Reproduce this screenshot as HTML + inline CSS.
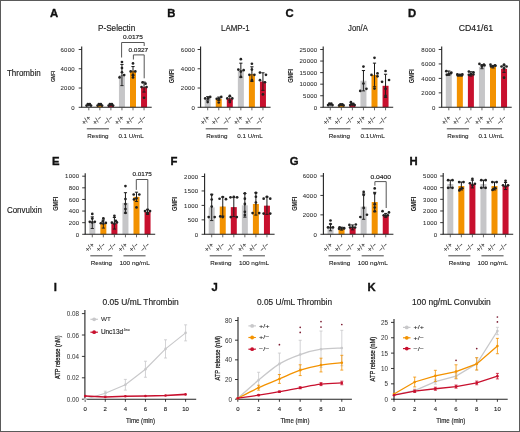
<!DOCTYPE html>
<html><head><meta charset="utf-8"><title>Figure</title><style>
html,body{margin:0;padding:0;background:#fff;}
#fig{position:relative;width:520px;height:432px;overflow:hidden;background:#fff;}
#fig svg{display:block;font-family:"Liberation Sans", sans-serif;will-change:transform;filter:blur(0.3px);}
#frame{position:absolute;left:0;top:0;width:520px;height:432px;box-sizing:border-box;border:1px solid #5a5a5a;}
</style></head><body>
<div id="fig">
<svg width="520" height="432" viewBox="0 0 520 432">
<rect width="520" height="432" fill="#fff"/>
<text x="6.90" y="75.70" font-size="9.0" text-anchor="start" font-weight="normal" fill="#222" stroke="#222" stroke-width="0.16" textLength="33.80" lengthAdjust="spacingAndGlyphs">Thrombin</text>
<text x="6.90" y="213.20" font-size="8.8" text-anchor="start" font-weight="normal" fill="#222" stroke="#222" stroke-width="0.16" textLength="35.00" lengthAdjust="spacingAndGlyphs">Convulxin</text>
<text x="50.10" y="16.90" font-size="11.3" text-anchor="start" font-weight="bold" fill="#111" stroke="#111" stroke-width="0.35">A</text>
<text x="167.20" y="16.90" font-size="11.3" text-anchor="start" font-weight="bold" fill="#111" stroke="#111" stroke-width="0.35">B</text>
<text x="285.50" y="16.90" font-size="11.3" text-anchor="start" font-weight="bold" fill="#111" stroke="#111" stroke-width="0.35">C</text>
<text x="408.10" y="16.90" font-size="11.3" text-anchor="start" font-weight="bold" fill="#111" stroke="#111" stroke-width="0.35">D</text>
<text x="52.10" y="164.60" font-size="11.3" text-anchor="start" font-weight="bold" fill="#111" stroke="#111" stroke-width="0.35">E</text>
<text x="170.60" y="164.60" font-size="11.3" text-anchor="start" font-weight="bold" fill="#111" stroke="#111" stroke-width="0.35">F</text>
<text x="289.70" y="164.60" font-size="11.3" text-anchor="start" font-weight="bold" fill="#111" stroke="#111" stroke-width="0.35">G</text>
<text x="409.40" y="164.60" font-size="11.3" text-anchor="start" font-weight="bold" fill="#111" stroke="#111" stroke-width="0.35">H</text>
<text x="53.70" y="291.40" font-size="11.3" text-anchor="start" font-weight="bold" fill="#111" stroke="#111" stroke-width="0.35">I</text>
<text x="211.50" y="291.40" font-size="11.3" text-anchor="start" font-weight="bold" fill="#111" stroke="#111" stroke-width="0.35">J</text>
<text x="367.50" y="291.40" font-size="11.3" text-anchor="start" font-weight="bold" fill="#111" stroke="#111" stroke-width="0.35">K</text>
<text x="98.00" y="30.50" font-size="8.5" text-anchor="start" font-weight="normal" fill="#222" stroke="#222" stroke-width="0.16" textLength="37.20" lengthAdjust="spacingAndGlyphs">P-Selectin</text>
<text x="221.00" y="30.80" font-size="8.5" text-anchor="start" font-weight="normal" fill="#222" stroke="#222" stroke-width="0.16" textLength="28.60" lengthAdjust="spacingAndGlyphs">LAMP-1</text>
<text x="348.10" y="30.80" font-size="8.5" text-anchor="start" font-weight="normal" fill="#222" stroke="#222" stroke-width="0.16" textLength="19.70" lengthAdjust="spacingAndGlyphs">Jon/A</text>
<text x="458.80" y="30.80" font-size="8.5" text-anchor="start" font-weight="normal" fill="#222" stroke="#222" stroke-width="0.16" textLength="34.30" lengthAdjust="spacingAndGlyphs">CD41/61</text>
<rect x="85.80" y="104.89" width="6.00" height="2.41" fill="#c6c6c8"/>
<rect x="96.85" y="104.89" width="6.00" height="2.41" fill="#f39200"/>
<rect x="107.90" y="104.89" width="6.00" height="2.41" fill="#c8102e"/>
<rect x="118.95" y="75.03" width="6.00" height="32.27" fill="#c6c6c8"/>
<rect x="130.00" y="70.89" width="6.00" height="36.41" fill="#f39200"/>
<rect x="141.05" y="87.07" width="6.00" height="20.23" fill="#c8102e"/>
<circle cx="86.60" cy="105.57" r="1.35" fill="#222"/>
<circle cx="91.00" cy="105.57" r="1.35" fill="#222"/>
<circle cx="87.80" cy="104.02" r="1.35" fill="#222"/>
<circle cx="89.80" cy="104.02" r="1.35" fill="#222"/>
<circle cx="88.80" cy="104.80" r="1.35" fill="#222"/>
<circle cx="97.65" cy="105.57" r="1.35" fill="#222"/>
<circle cx="102.05" cy="105.57" r="1.35" fill="#222"/>
<circle cx="98.85" cy="104.02" r="1.35" fill="#222"/>
<circle cx="100.85" cy="104.02" r="1.35" fill="#222"/>
<circle cx="99.85" cy="104.80" r="1.35" fill="#222"/>
<circle cx="108.70" cy="105.57" r="1.35" fill="#222"/>
<circle cx="113.10" cy="105.57" r="1.35" fill="#222"/>
<circle cx="109.90" cy="104.02" r="1.35" fill="#222"/>
<circle cx="111.90" cy="104.02" r="1.35" fill="#222"/>
<circle cx="110.90" cy="104.80" r="1.35" fill="#222"/>
<line x1="121.95" y1="75.53" x2="121.95" y2="64.43" stroke="#1a1a1a" stroke-width="1"/>
<line x1="120.35" y1="64.43" x2="123.55" y2="64.43" stroke="#1a1a1a" stroke-width="1"/>
<line x1="121.95" y1="75.03" x2="121.95" y2="85.62" stroke="#1a1a1a" stroke-width="0.9"/>
<line x1="120.35" y1="85.62" x2="123.55" y2="85.62" stroke="#1a1a1a" stroke-width="0.9"/>
<circle cx="121.95" cy="62.02" r="1.35" fill="#222"/>
<circle cx="121.95" cy="68.00" r="1.35" fill="#222"/>
<circle cx="121.95" cy="72.23" r="1.35" fill="#222"/>
<circle cx="124.15" cy="75.03" r="1.35" fill="#222"/>
<circle cx="119.55" cy="77.44" r="1.35" fill="#222"/>
<line x1="133.00" y1="71.39" x2="133.00" y2="66.55" stroke="#1a1a1a" stroke-width="1"/>
<line x1="131.40" y1="66.55" x2="134.60" y2="66.55" stroke="#1a1a1a" stroke-width="1"/>
<line x1="133.00" y1="70.89" x2="133.00" y2="75.22" stroke="#1a1a1a" stroke-width="0.9"/>
<line x1="131.40" y1="75.22" x2="134.60" y2="75.22" stroke="#1a1a1a" stroke-width="0.9"/>
<circle cx="133.00" cy="63.47" r="1.35" fill="#222"/>
<circle cx="130.70" cy="71.46" r="1.35" fill="#222"/>
<circle cx="135.30" cy="71.46" r="1.35" fill="#222"/>
<circle cx="133.00" cy="75.12" r="1.35" fill="#222"/>
<circle cx="133.00" cy="77.44" r="1.35" fill="#222"/>
<line x1="144.05" y1="87.57" x2="144.05" y2="82.06" stroke="#1a1a1a" stroke-width="1"/>
<line x1="142.45" y1="82.06" x2="145.65" y2="82.06" stroke="#1a1a1a" stroke-width="1"/>
<line x1="144.05" y1="87.07" x2="144.05" y2="92.08" stroke="#1a1a1a" stroke-width="0.9"/>
<line x1="142.45" y1="92.08" x2="145.65" y2="92.08" stroke="#1a1a1a" stroke-width="0.9"/>
<circle cx="142.55" cy="82.45" r="1.35" fill="#222"/>
<circle cx="145.55" cy="83.70" r="1.35" fill="#222"/>
<circle cx="141.55" cy="87.07" r="1.35" fill="#222"/>
<circle cx="146.55" cy="87.07" r="1.35" fill="#222"/>
<circle cx="144.05" cy="97.76" r="1.35" fill="#222"/>
<line x1="81.70" y1="107.30" x2="81.70" y2="46.50" stroke="#222" stroke-width="1.1"/>
<line x1="81.20" y1="107.30" x2="151.70" y2="107.30" stroke="#222" stroke-width="1.1"/>
<line x1="78.70" y1="107.30" x2="81.70" y2="107.30" stroke="#222" stroke-width="0.9"/>
<text x="74.60" y="109.50" font-size="6" text-anchor="end" font-weight="normal" fill="#2a2a2a" stroke="#2a2a2a" stroke-width="0.06" textLength="3.22" lengthAdjust="spacing">0</text>
<line x1="78.70" y1="88.03" x2="81.70" y2="88.03" stroke="#222" stroke-width="0.9"/>
<text x="74.60" y="90.23" font-size="6" text-anchor="end" font-weight="normal" fill="#2a2a2a" stroke="#2a2a2a" stroke-width="0.06" textLength="14.08" lengthAdjust="spacing">2000</text>
<line x1="78.70" y1="68.77" x2="81.70" y2="68.77" stroke="#222" stroke-width="0.9"/>
<text x="74.60" y="70.97" font-size="6" text-anchor="end" font-weight="normal" fill="#2a2a2a" stroke="#2a2a2a" stroke-width="0.06" textLength="14.08" lengthAdjust="spacing">4000</text>
<line x1="78.70" y1="49.50" x2="81.70" y2="49.50" stroke="#222" stroke-width="0.9"/>
<text x="74.60" y="51.70" font-size="6" text-anchor="end" font-weight="normal" fill="#2a2a2a" stroke="#2a2a2a" stroke-width="0.06" textLength="14.08" lengthAdjust="spacing">6000</text>
<line x1="88.80" y1="107.30" x2="88.80" y2="110.30" stroke="#444" stroke-width="0.8"/>
<text x="91.30" y="118.30" font-size="7.0" text-anchor="end" font-weight="normal" fill="#333" stroke="#333" stroke-width="0.1" transform="rotate(-45 91.30 118.30)">+/+</text>
<line x1="99.85" y1="107.30" x2="99.85" y2="110.30" stroke="#444" stroke-width="0.8"/>
<text x="102.35" y="118.30" font-size="7.0" text-anchor="end" font-weight="normal" fill="#333" stroke="#333" stroke-width="0.1" transform="rotate(-45 102.35 118.30)">+/&#8722;</text>
<line x1="110.90" y1="107.30" x2="110.90" y2="110.30" stroke="#444" stroke-width="0.8"/>
<text x="113.40" y="118.30" font-size="7.0" text-anchor="end" font-weight="normal" fill="#333" stroke="#333" stroke-width="0.1" transform="rotate(-45 113.40 118.30)">&#8722;/&#8722;</text>
<line x1="121.95" y1="107.30" x2="121.95" y2="110.30" stroke="#444" stroke-width="0.8"/>
<text x="124.45" y="118.30" font-size="7.0" text-anchor="end" font-weight="normal" fill="#333" stroke="#333" stroke-width="0.1" transform="rotate(-45 124.45 118.30)">+/+</text>
<line x1="133.00" y1="107.30" x2="133.00" y2="110.30" stroke="#444" stroke-width="0.8"/>
<text x="135.50" y="118.30" font-size="7.0" text-anchor="end" font-weight="normal" fill="#333" stroke="#333" stroke-width="0.1" transform="rotate(-45 135.50 118.30)">+/&#8722;</text>
<line x1="144.05" y1="107.30" x2="144.05" y2="110.30" stroke="#444" stroke-width="0.8"/>
<text x="146.55" y="118.30" font-size="7.0" text-anchor="end" font-weight="normal" fill="#333" stroke="#333" stroke-width="0.1" transform="rotate(-45 146.55 118.30)">&#8722;/&#8722;</text>
<line x1="86.80" y1="128.80" x2="108.90" y2="128.80" stroke="#555" stroke-width="1.1"/>
<line x1="119.95" y1="128.80" x2="142.05" y2="128.80" stroke="#555" stroke-width="1.1"/>
<text x="97.95" y="137.60" font-size="6.2" text-anchor="middle" font-weight="normal" fill="#222" stroke="#222" stroke-width="0.1" textLength="21.20" lengthAdjust="spacingAndGlyphs">Resting</text>
<text x="131.10" y="137.60" font-size="6.2" text-anchor="middle" font-weight="normal" fill="#222" stroke="#222" stroke-width="0.1" textLength="25.40" lengthAdjust="spacingAndGlyphs">0.1 U/mL</text>
<text x="54.55" y="76.40" font-size="4.6" text-anchor="middle" font-weight="normal" fill="#222" stroke="#222" stroke-width="0.2" textLength="10.80" lengthAdjust="spacingAndGlyphs" transform="rotate(-90 54.55 76.40)">GMFI</text>
<text x="132.90" y="39.20" font-size="6" text-anchor="middle" font-weight="normal" fill="#222" stroke="#222" stroke-width="0.16" textLength="20.00" lengthAdjust="spacingAndGlyphs">0.0175</text>
<path d="M121.6 57.5 V42.5 H144.2 V46" stroke="#555" stroke-width="1" fill="none"/>
<text x="138.30" y="51.60" font-size="6" text-anchor="middle" font-weight="normal" fill="#222" stroke="#222" stroke-width="0.16" textLength="19.60" lengthAdjust="spacingAndGlyphs">0.0327</text>
<path d="M133.4 59.5 V54.9 H144.2 V78.3" stroke="#555" stroke-width="1" fill="none"/>
<rect x="204.70" y="98.44" width="6.00" height="8.86" fill="#c6c6c8"/>
<rect x="215.75" y="98.82" width="6.00" height="8.48" fill="#f39200"/>
<rect x="226.80" y="98.44" width="6.00" height="8.86" fill="#c8102e"/>
<rect x="237.85" y="70.21" width="6.00" height="37.09" fill="#c6c6c8"/>
<rect x="248.90" y="74.16" width="6.00" height="33.14" fill="#f39200"/>
<rect x="259.95" y="81.58" width="6.00" height="25.72" fill="#c8102e"/>
<line x1="207.70" y1="98.94" x2="207.70" y2="96.70" stroke="#1a1a1a" stroke-width="1"/>
<line x1="206.10" y1="96.70" x2="209.30" y2="96.70" stroke="#1a1a1a" stroke-width="1"/>
<line x1="207.70" y1="98.44" x2="207.70" y2="100.17" stroke="#1a1a1a" stroke-width="0.9"/>
<line x1="206.10" y1="100.17" x2="209.30" y2="100.17" stroke="#1a1a1a" stroke-width="0.9"/>
<circle cx="205.20" cy="98.44" r="1.35" fill="#222"/>
<circle cx="210.20" cy="96.90" r="1.35" fill="#222"/>
<circle cx="208.20" cy="98.44" r="1.35" fill="#222"/>
<circle cx="207.70" cy="102.10" r="1.35" fill="#222"/>
<line x1="218.75" y1="99.32" x2="218.75" y2="97.09" stroke="#1a1a1a" stroke-width="1"/>
<line x1="217.15" y1="97.09" x2="220.35" y2="97.09" stroke="#1a1a1a" stroke-width="1"/>
<line x1="218.75" y1="98.82" x2="218.75" y2="100.56" stroke="#1a1a1a" stroke-width="0.9"/>
<line x1="217.15" y1="100.56" x2="220.35" y2="100.56" stroke="#1a1a1a" stroke-width="0.9"/>
<circle cx="216.75" cy="98.82" r="1.35" fill="#222"/>
<circle cx="221.25" cy="96.90" r="1.35" fill="#222"/>
<circle cx="219.25" cy="98.82" r="1.35" fill="#222"/>
<circle cx="218.75" cy="102.48" r="1.35" fill="#222"/>
<line x1="229.80" y1="98.94" x2="229.80" y2="96.51" stroke="#1a1a1a" stroke-width="1"/>
<line x1="228.20" y1="96.51" x2="231.40" y2="96.51" stroke="#1a1a1a" stroke-width="1"/>
<line x1="229.80" y1="98.44" x2="229.80" y2="100.36" stroke="#1a1a1a" stroke-width="0.9"/>
<line x1="228.20" y1="100.36" x2="231.40" y2="100.36" stroke="#1a1a1a" stroke-width="0.9"/>
<circle cx="229.80" cy="95.74" r="1.35" fill="#222"/>
<circle cx="227.30" cy="98.44" r="1.35" fill="#222"/>
<circle cx="232.30" cy="98.44" r="1.35" fill="#222"/>
<circle cx="229.80" cy="102.10" r="1.35" fill="#222"/>
<line x1="240.85" y1="70.71" x2="240.85" y2="63.18" stroke="#1a1a1a" stroke-width="1"/>
<line x1="239.25" y1="63.18" x2="242.45" y2="63.18" stroke="#1a1a1a" stroke-width="1"/>
<line x1="240.85" y1="70.21" x2="240.85" y2="77.24" stroke="#1a1a1a" stroke-width="0.9"/>
<line x1="239.25" y1="77.24" x2="242.45" y2="77.24" stroke="#1a1a1a" stroke-width="0.9"/>
<circle cx="240.85" cy="59.13" r="1.35" fill="#222"/>
<circle cx="238.35" cy="69.54" r="1.35" fill="#222"/>
<circle cx="243.65" cy="70.21" r="1.35" fill="#222"/>
<circle cx="240.85" cy="71.56" r="1.35" fill="#222"/>
<circle cx="240.85" cy="76.95" r="1.35" fill="#222"/>
<line x1="251.90" y1="74.66" x2="251.90" y2="66.79" stroke="#1a1a1a" stroke-width="1"/>
<line x1="250.30" y1="66.79" x2="253.50" y2="66.79" stroke="#1a1a1a" stroke-width="1"/>
<line x1="251.90" y1="74.16" x2="251.90" y2="81.53" stroke="#1a1a1a" stroke-width="0.9"/>
<line x1="250.30" y1="81.53" x2="253.50" y2="81.53" stroke="#1a1a1a" stroke-width="0.9"/>
<circle cx="251.90" cy="63.76" r="1.35" fill="#222"/>
<circle cx="251.90" cy="69.54" r="1.35" fill="#222"/>
<circle cx="249.40" cy="74.84" r="1.35" fill="#222"/>
<circle cx="254.40" cy="74.84" r="1.35" fill="#222"/>
<circle cx="251.90" cy="80.13" r="1.35" fill="#222"/>
<line x1="262.95" y1="82.08" x2="262.95" y2="72.81" stroke="#1a1a1a" stroke-width="1"/>
<line x1="261.35" y1="72.81" x2="264.55" y2="72.81" stroke="#1a1a1a" stroke-width="1"/>
<line x1="262.95" y1="81.58" x2="262.95" y2="90.35" stroke="#1a1a1a" stroke-width="0.9"/>
<line x1="261.35" y1="90.35" x2="264.55" y2="90.35" stroke="#1a1a1a" stroke-width="0.9"/>
<circle cx="259.95" cy="72.62" r="1.35" fill="#222"/>
<circle cx="265.95" cy="74.84" r="1.35" fill="#222"/>
<circle cx="259.95" cy="80.13" r="1.35" fill="#222"/>
<circle cx="264.95" cy="82.25" r="1.35" fill="#222"/>
<circle cx="262.95" cy="94.39" r="1.35" fill="#222"/>
<line x1="200.60" y1="107.30" x2="200.60" y2="46.50" stroke="#222" stroke-width="1.1"/>
<line x1="200.10" y1="107.30" x2="270.60" y2="107.30" stroke="#222" stroke-width="1.1"/>
<line x1="197.60" y1="107.30" x2="200.60" y2="107.30" stroke="#222" stroke-width="0.9"/>
<text x="194.90" y="109.50" font-size="6" text-anchor="end" font-weight="normal" fill="#2a2a2a" stroke="#2a2a2a" stroke-width="0.06" textLength="3.22" lengthAdjust="spacing">0</text>
<line x1="197.60" y1="88.03" x2="200.60" y2="88.03" stroke="#222" stroke-width="0.9"/>
<text x="194.90" y="90.23" font-size="6" text-anchor="end" font-weight="normal" fill="#2a2a2a" stroke="#2a2a2a" stroke-width="0.06" textLength="14.08" lengthAdjust="spacing">2000</text>
<line x1="197.60" y1="68.77" x2="200.60" y2="68.77" stroke="#222" stroke-width="0.9"/>
<text x="194.90" y="70.97" font-size="6" text-anchor="end" font-weight="normal" fill="#2a2a2a" stroke="#2a2a2a" stroke-width="0.06" textLength="14.08" lengthAdjust="spacing">4000</text>
<line x1="197.60" y1="49.50" x2="200.60" y2="49.50" stroke="#222" stroke-width="0.9"/>
<text x="194.90" y="51.70" font-size="6" text-anchor="end" font-weight="normal" fill="#2a2a2a" stroke="#2a2a2a" stroke-width="0.06" textLength="14.08" lengthAdjust="spacing">6000</text>
<line x1="207.70" y1="107.30" x2="207.70" y2="110.30" stroke="#444" stroke-width="0.8"/>
<text x="210.20" y="118.30" font-size="7.0" text-anchor="end" font-weight="normal" fill="#333" stroke="#333" stroke-width="0.1" transform="rotate(-45 210.20 118.30)">+/+</text>
<line x1="218.75" y1="107.30" x2="218.75" y2="110.30" stroke="#444" stroke-width="0.8"/>
<text x="221.25" y="118.30" font-size="7.0" text-anchor="end" font-weight="normal" fill="#333" stroke="#333" stroke-width="0.1" transform="rotate(-45 221.25 118.30)">+/&#8722;</text>
<line x1="229.80" y1="107.30" x2="229.80" y2="110.30" stroke="#444" stroke-width="0.8"/>
<text x="232.30" y="118.30" font-size="7.0" text-anchor="end" font-weight="normal" fill="#333" stroke="#333" stroke-width="0.1" transform="rotate(-45 232.30 118.30)">&#8722;/&#8722;</text>
<line x1="240.85" y1="107.30" x2="240.85" y2="110.30" stroke="#444" stroke-width="0.8"/>
<text x="243.35" y="118.30" font-size="7.0" text-anchor="end" font-weight="normal" fill="#333" stroke="#333" stroke-width="0.1" transform="rotate(-45 243.35 118.30)">+/+</text>
<line x1="251.90" y1="107.30" x2="251.90" y2="110.30" stroke="#444" stroke-width="0.8"/>
<text x="254.40" y="118.30" font-size="7.0" text-anchor="end" font-weight="normal" fill="#333" stroke="#333" stroke-width="0.1" transform="rotate(-45 254.40 118.30)">+/&#8722;</text>
<line x1="262.95" y1="107.30" x2="262.95" y2="110.30" stroke="#444" stroke-width="0.8"/>
<text x="265.45" y="118.30" font-size="7.0" text-anchor="end" font-weight="normal" fill="#333" stroke="#333" stroke-width="0.1" transform="rotate(-45 265.45 118.30)">&#8722;/&#8722;</text>
<line x1="205.70" y1="128.80" x2="227.80" y2="128.80" stroke="#555" stroke-width="1.1"/>
<line x1="238.85" y1="128.80" x2="260.95" y2="128.80" stroke="#555" stroke-width="1.1"/>
<text x="216.85" y="137.60" font-size="6.2" text-anchor="middle" font-weight="normal" fill="#222" stroke="#222" stroke-width="0.1" textLength="21.20" lengthAdjust="spacingAndGlyphs">Resting</text>
<text x="250.00" y="137.60" font-size="6.2" text-anchor="middle" font-weight="normal" fill="#222" stroke="#222" stroke-width="0.1" textLength="25.40" lengthAdjust="spacingAndGlyphs">0.1 U/mL</text>
<text x="173.75" y="76.20" font-size="7.4" text-anchor="middle" font-weight="bold" fill="#222" stroke="#222" stroke-width="0.05" textLength="13.90" lengthAdjust="spacingAndGlyphs" transform="rotate(-90 173.75 76.20)">GMFI</text>
<rect x="327.30" y="104.53" width="6.00" height="2.77" fill="#c6c6c8"/>
<rect x="338.35" y="104.99" width="6.00" height="2.31" fill="#f39200"/>
<rect x="349.40" y="104.29" width="6.00" height="3.01" fill="#c8102e"/>
<rect x="360.45" y="80.71" width="6.00" height="26.59" fill="#c6c6c8"/>
<rect x="371.50" y="74.93" width="6.00" height="32.37" fill="#f39200"/>
<rect x="382.55" y="85.80" width="6.00" height="21.50" fill="#c8102e"/>
<circle cx="328.10" cy="105.10" r="1.35" fill="#222"/>
<circle cx="332.50" cy="105.10" r="1.35" fill="#222"/>
<circle cx="329.30" cy="103.72" r="1.35" fill="#222"/>
<circle cx="331.30" cy="103.72" r="1.35" fill="#222"/>
<circle cx="330.30" cy="104.41" r="1.35" fill="#222"/>
<circle cx="339.15" cy="105.45" r="1.35" fill="#222"/>
<circle cx="343.55" cy="105.45" r="1.35" fill="#222"/>
<circle cx="340.35" cy="104.29" r="1.35" fill="#222"/>
<circle cx="342.35" cy="104.29" r="1.35" fill="#222"/>
<circle cx="341.35" cy="104.87" r="1.35" fill="#222"/>
<circle cx="350.20" cy="105.10" r="1.35" fill="#222"/>
<circle cx="354.60" cy="105.10" r="1.35" fill="#222"/>
<circle cx="351.40" cy="103.95" r="1.35" fill="#222"/>
<circle cx="353.40" cy="103.95" r="1.35" fill="#222"/>
<circle cx="352.40" cy="104.53" r="1.35" fill="#222"/>
<circle cx="350.90" cy="102.21" r="1.35" fill="#222"/>
<line x1="363.45" y1="81.21" x2="363.45" y2="70.54" stroke="#1a1a1a" stroke-width="1"/>
<line x1="361.85" y1="70.54" x2="365.05" y2="70.54" stroke="#1a1a1a" stroke-width="1"/>
<line x1="363.45" y1="80.71" x2="363.45" y2="90.88" stroke="#1a1a1a" stroke-width="0.9"/>
<line x1="361.85" y1="90.88" x2="365.05" y2="90.88" stroke="#1a1a1a" stroke-width="0.9"/>
<circle cx="363.45" cy="66.61" r="1.35" fill="#222"/>
<circle cx="363.45" cy="83.60" r="1.35" fill="#222"/>
<circle cx="360.25" cy="90.88" r="1.35" fill="#222"/>
<circle cx="366.45" cy="88.80" r="1.35" fill="#222"/>
<line x1="374.50" y1="75.43" x2="374.50" y2="63.14" stroke="#1a1a1a" stroke-width="1"/>
<line x1="372.90" y1="63.14" x2="376.10" y2="63.14" stroke="#1a1a1a" stroke-width="1"/>
<line x1="374.50" y1="74.93" x2="374.50" y2="86.72" stroke="#1a1a1a" stroke-width="0.9"/>
<line x1="372.90" y1="86.72" x2="376.10" y2="86.72" stroke="#1a1a1a" stroke-width="0.9"/>
<circle cx="374.50" cy="57.82" r="1.35" fill="#222"/>
<circle cx="371.50" cy="74.93" r="1.35" fill="#222"/>
<circle cx="377.50" cy="73.43" r="1.35" fill="#222"/>
<circle cx="377.50" cy="76.32" r="1.35" fill="#222"/>
<circle cx="374.50" cy="88.57" r="1.35" fill="#222"/>
<line x1="385.55" y1="86.30" x2="385.55" y2="74.24" stroke="#1a1a1a" stroke-width="1"/>
<line x1="383.95" y1="74.24" x2="387.15" y2="74.24" stroke="#1a1a1a" stroke-width="1"/>
<line x1="385.55" y1="85.80" x2="385.55" y2="97.36" stroke="#1a1a1a" stroke-width="0.9"/>
<line x1="383.95" y1="97.36" x2="387.15" y2="97.36" stroke="#1a1a1a" stroke-width="0.9"/>
<circle cx="385.55" cy="71.00" r="1.35" fill="#222"/>
<circle cx="382.05" cy="81.87" r="1.35" fill="#222"/>
<circle cx="389.05" cy="80.02" r="1.35" fill="#222"/>
<circle cx="385.55" cy="88.80" r="1.35" fill="#222"/>
<circle cx="385.55" cy="95.97" r="1.35" fill="#222"/>
<line x1="323.20" y1="107.30" x2="323.20" y2="46.50" stroke="#222" stroke-width="1.1"/>
<line x1="322.70" y1="107.30" x2="393.20" y2="107.30" stroke="#222" stroke-width="1.1"/>
<line x1="320.20" y1="107.30" x2="323.20" y2="107.30" stroke="#222" stroke-width="0.9"/>
<text x="317.20" y="109.50" font-size="6" text-anchor="end" font-weight="normal" fill="#2a2a2a" stroke="#2a2a2a" stroke-width="0.06" textLength="3.22" lengthAdjust="spacing">0</text>
<line x1="320.20" y1="95.74" x2="323.20" y2="95.74" stroke="#222" stroke-width="0.9"/>
<text x="317.20" y="97.94" font-size="6" text-anchor="end" font-weight="normal" fill="#2a2a2a" stroke="#2a2a2a" stroke-width="0.06" textLength="14.08" lengthAdjust="spacing">5000</text>
<line x1="320.20" y1="84.18" x2="323.20" y2="84.18" stroke="#222" stroke-width="0.9"/>
<text x="317.20" y="86.38" font-size="6" text-anchor="end" font-weight="normal" fill="#2a2a2a" stroke="#2a2a2a" stroke-width="0.06" textLength="17.70" lengthAdjust="spacing">10000</text>
<line x1="320.20" y1="72.62" x2="323.20" y2="72.62" stroke="#222" stroke-width="0.9"/>
<text x="317.20" y="74.82" font-size="6" text-anchor="end" font-weight="normal" fill="#2a2a2a" stroke="#2a2a2a" stroke-width="0.06" textLength="17.70" lengthAdjust="spacing">15000</text>
<line x1="320.20" y1="61.06" x2="323.20" y2="61.06" stroke="#222" stroke-width="0.9"/>
<text x="317.20" y="63.26" font-size="6" text-anchor="end" font-weight="normal" fill="#2a2a2a" stroke="#2a2a2a" stroke-width="0.06" textLength="17.70" lengthAdjust="spacing">20000</text>
<line x1="320.20" y1="49.50" x2="323.20" y2="49.50" stroke="#222" stroke-width="0.9"/>
<text x="317.20" y="51.70" font-size="6" text-anchor="end" font-weight="normal" fill="#2a2a2a" stroke="#2a2a2a" stroke-width="0.06" textLength="17.70" lengthAdjust="spacing">25000</text>
<line x1="330.30" y1="107.30" x2="330.30" y2="110.30" stroke="#444" stroke-width="0.8"/>
<text x="332.80" y="118.30" font-size="7.0" text-anchor="end" font-weight="normal" fill="#333" stroke="#333" stroke-width="0.1" transform="rotate(-45 332.80 118.30)">+/+</text>
<line x1="341.35" y1="107.30" x2="341.35" y2="110.30" stroke="#444" stroke-width="0.8"/>
<text x="343.85" y="118.30" font-size="7.0" text-anchor="end" font-weight="normal" fill="#333" stroke="#333" stroke-width="0.1" transform="rotate(-45 343.85 118.30)">+/&#8722;</text>
<line x1="352.40" y1="107.30" x2="352.40" y2="110.30" stroke="#444" stroke-width="0.8"/>
<text x="354.90" y="118.30" font-size="7.0" text-anchor="end" font-weight="normal" fill="#333" stroke="#333" stroke-width="0.1" transform="rotate(-45 354.90 118.30)">&#8722;/&#8722;</text>
<line x1="363.45" y1="107.30" x2="363.45" y2="110.30" stroke="#444" stroke-width="0.8"/>
<text x="365.95" y="118.30" font-size="7.0" text-anchor="end" font-weight="normal" fill="#333" stroke="#333" stroke-width="0.1" transform="rotate(-45 365.95 118.30)">+/+</text>
<line x1="374.50" y1="107.30" x2="374.50" y2="110.30" stroke="#444" stroke-width="0.8"/>
<text x="377.00" y="118.30" font-size="7.0" text-anchor="end" font-weight="normal" fill="#333" stroke="#333" stroke-width="0.1" transform="rotate(-45 377.00 118.30)">+/&#8722;</text>
<line x1="385.55" y1="107.30" x2="385.55" y2="110.30" stroke="#444" stroke-width="0.8"/>
<text x="388.05" y="118.30" font-size="7.0" text-anchor="end" font-weight="normal" fill="#333" stroke="#333" stroke-width="0.1" transform="rotate(-45 388.05 118.30)">&#8722;/&#8722;</text>
<line x1="328.30" y1="128.80" x2="350.40" y2="128.80" stroke="#555" stroke-width="1.1"/>
<line x1="361.45" y1="128.80" x2="383.55" y2="128.80" stroke="#555" stroke-width="1.1"/>
<text x="339.45" y="137.60" font-size="6.2" text-anchor="middle" font-weight="normal" fill="#222" stroke="#222" stroke-width="0.1" textLength="21.20" lengthAdjust="spacingAndGlyphs">Resting</text>
<text x="372.60" y="137.60" font-size="6.2" text-anchor="middle" font-weight="normal" fill="#222" stroke="#222" stroke-width="0.1" textLength="24.20" lengthAdjust="spacingAndGlyphs">0.1U/mL</text>
<text x="292.65" y="75.90" font-size="7.4" text-anchor="middle" font-weight="bold" fill="#222" stroke="#222" stroke-width="0.05" textLength="13.90" lengthAdjust="spacingAndGlyphs" transform="rotate(-90 292.65 75.90)">GMFI</text>
<rect x="445.80" y="73.20" width="6.00" height="34.10" fill="#c6c6c8"/>
<rect x="456.85" y="75.08" width="6.00" height="32.22" fill="#f39200"/>
<rect x="467.90" y="73.92" width="6.00" height="33.38" fill="#c8102e"/>
<rect x="478.95" y="66.91" width="6.00" height="40.39" fill="#c6c6c8"/>
<rect x="490.00" y="66.91" width="6.00" height="40.39" fill="#f39200"/>
<rect x="501.05" y="68.79" width="6.00" height="38.51" fill="#c8102e"/>
<line x1="448.80" y1="73.70" x2="448.80" y2="71.03" stroke="#1a1a1a" stroke-width="1"/>
<line x1="447.20" y1="71.03" x2="450.40" y2="71.03" stroke="#1a1a1a" stroke-width="1"/>
<line x1="448.80" y1="73.20" x2="448.80" y2="75.37" stroke="#1a1a1a" stroke-width="0.9"/>
<line x1="447.20" y1="75.37" x2="450.40" y2="75.37" stroke="#1a1a1a" stroke-width="0.9"/>
<circle cx="446.30" cy="71.17" r="1.35" fill="#222"/>
<circle cx="451.30" cy="72.62" r="1.35" fill="#222"/>
<circle cx="448.80" cy="74.06" r="1.35" fill="#222"/>
<circle cx="446.80" cy="74.79" r="1.35" fill="#222"/>
<circle cx="450.80" cy="73.34" r="1.35" fill="#222"/>
<line x1="459.85" y1="75.58" x2="459.85" y2="74.21" stroke="#1a1a1a" stroke-width="1"/>
<line x1="458.25" y1="74.21" x2="461.45" y2="74.21" stroke="#1a1a1a" stroke-width="1"/>
<line x1="459.85" y1="75.08" x2="459.85" y2="75.94" stroke="#1a1a1a" stroke-width="0.9"/>
<line x1="458.25" y1="75.94" x2="461.45" y2="75.94" stroke="#1a1a1a" stroke-width="0.9"/>
<circle cx="457.35" cy="74.43" r="1.35" fill="#222"/>
<circle cx="462.35" cy="74.43" r="1.35" fill="#222"/>
<circle cx="459.85" cy="75.15" r="1.35" fill="#222"/>
<circle cx="457.85" cy="75.51" r="1.35" fill="#222"/>
<circle cx="461.85" cy="75.51" r="1.35" fill="#222"/>
<line x1="470.90" y1="74.42" x2="470.90" y2="71.75" stroke="#1a1a1a" stroke-width="1"/>
<line x1="469.30" y1="71.75" x2="472.50" y2="71.75" stroke="#1a1a1a" stroke-width="1"/>
<line x1="470.90" y1="73.92" x2="470.90" y2="76.09" stroke="#1a1a1a" stroke-width="0.9"/>
<line x1="469.30" y1="76.09" x2="472.50" y2="76.09" stroke="#1a1a1a" stroke-width="0.9"/>
<circle cx="468.90" cy="71.54" r="1.35" fill="#222"/>
<circle cx="473.40" cy="72.26" r="1.35" fill="#222"/>
<circle cx="470.90" cy="74.06" r="1.35" fill="#222"/>
<circle cx="468.90" cy="74.79" r="1.35" fill="#222"/>
<circle cx="473.40" cy="74.43" r="1.35" fill="#222"/>
<line x1="481.95" y1="67.41" x2="481.95" y2="65.11" stroke="#1a1a1a" stroke-width="1"/>
<line x1="480.35" y1="65.11" x2="483.55" y2="65.11" stroke="#1a1a1a" stroke-width="1"/>
<line x1="481.95" y1="66.91" x2="481.95" y2="68.72" stroke="#1a1a1a" stroke-width="0.9"/>
<line x1="480.35" y1="68.72" x2="483.55" y2="68.72" stroke="#1a1a1a" stroke-width="0.9"/>
<circle cx="479.45" cy="63.95" r="1.35" fill="#222"/>
<circle cx="483.95" cy="64.67" r="1.35" fill="#222"/>
<circle cx="481.95" cy="66.48" r="1.35" fill="#222"/>
<circle cx="481.95" cy="65.39" r="1.35" fill="#222"/>
<circle cx="484.45" cy="65.39" r="1.35" fill="#222"/>
<line x1="493.00" y1="67.41" x2="493.00" y2="65.83" stroke="#1a1a1a" stroke-width="1"/>
<line x1="491.40" y1="65.83" x2="494.60" y2="65.83" stroke="#1a1a1a" stroke-width="1"/>
<line x1="493.00" y1="66.91" x2="493.00" y2="68.00" stroke="#1a1a1a" stroke-width="0.9"/>
<line x1="491.40" y1="68.00" x2="494.60" y2="68.00" stroke="#1a1a1a" stroke-width="0.9"/>
<circle cx="490.50" cy="64.67" r="1.35" fill="#222"/>
<circle cx="495.00" cy="65.39" r="1.35" fill="#222"/>
<circle cx="493.00" cy="66.12" r="1.35" fill="#222"/>
<circle cx="495.50" cy="65.76" r="1.35" fill="#222"/>
<circle cx="491.00" cy="66.48" r="1.35" fill="#222"/>
<line x1="504.05" y1="69.29" x2="504.05" y2="65.18" stroke="#1a1a1a" stroke-width="1"/>
<line x1="502.45" y1="65.18" x2="505.65" y2="65.18" stroke="#1a1a1a" stroke-width="1"/>
<line x1="504.05" y1="68.79" x2="504.05" y2="72.40" stroke="#1a1a1a" stroke-width="0.9"/>
<line x1="502.45" y1="72.40" x2="505.65" y2="72.40" stroke="#1a1a1a" stroke-width="0.9"/>
<circle cx="504.05" cy="64.67" r="1.35" fill="#222"/>
<circle cx="501.55" cy="66.48" r="1.35" fill="#222"/>
<circle cx="506.55" cy="66.48" r="1.35" fill="#222"/>
<circle cx="504.05" cy="68.28" r="1.35" fill="#222"/>
<circle cx="504.05" cy="77.68" r="1.35" fill="#222"/>
<line x1="441.70" y1="107.30" x2="441.70" y2="46.50" stroke="#222" stroke-width="1.1"/>
<line x1="441.20" y1="107.30" x2="511.70" y2="107.30" stroke="#222" stroke-width="1.1"/>
<line x1="438.70" y1="107.30" x2="441.70" y2="107.30" stroke="#222" stroke-width="0.9"/>
<text x="435.40" y="109.50" font-size="6" text-anchor="end" font-weight="normal" fill="#2a2a2a" stroke="#2a2a2a" stroke-width="0.06" textLength="3.22" lengthAdjust="spacing">0</text>
<line x1="438.70" y1="92.85" x2="441.70" y2="92.85" stroke="#222" stroke-width="0.9"/>
<text x="435.40" y="95.05" font-size="6" text-anchor="end" font-weight="normal" fill="#2a2a2a" stroke="#2a2a2a" stroke-width="0.06" textLength="14.08" lengthAdjust="spacing">2000</text>
<line x1="438.70" y1="78.40" x2="441.70" y2="78.40" stroke="#222" stroke-width="0.9"/>
<text x="435.40" y="80.60" font-size="6" text-anchor="end" font-weight="normal" fill="#2a2a2a" stroke="#2a2a2a" stroke-width="0.06" textLength="14.08" lengthAdjust="spacing">4000</text>
<line x1="438.70" y1="63.95" x2="441.70" y2="63.95" stroke="#222" stroke-width="0.9"/>
<text x="435.40" y="66.15" font-size="6" text-anchor="end" font-weight="normal" fill="#2a2a2a" stroke="#2a2a2a" stroke-width="0.06" textLength="14.08" lengthAdjust="spacing">6000</text>
<line x1="438.70" y1="49.50" x2="441.70" y2="49.50" stroke="#222" stroke-width="0.9"/>
<text x="435.40" y="51.70" font-size="6" text-anchor="end" font-weight="normal" fill="#2a2a2a" stroke="#2a2a2a" stroke-width="0.06" textLength="14.08" lengthAdjust="spacing">8000</text>
<line x1="448.80" y1="107.30" x2="448.80" y2="110.30" stroke="#444" stroke-width="0.8"/>
<text x="451.30" y="118.30" font-size="7.0" text-anchor="end" font-weight="normal" fill="#333" stroke="#333" stroke-width="0.1" transform="rotate(-45 451.30 118.30)">+/+</text>
<line x1="459.85" y1="107.30" x2="459.85" y2="110.30" stroke="#444" stroke-width="0.8"/>
<text x="462.35" y="118.30" font-size="7.0" text-anchor="end" font-weight="normal" fill="#333" stroke="#333" stroke-width="0.1" transform="rotate(-45 462.35 118.30)">+/&#8722;</text>
<line x1="470.90" y1="107.30" x2="470.90" y2="110.30" stroke="#444" stroke-width="0.8"/>
<text x="473.40" y="118.30" font-size="7.0" text-anchor="end" font-weight="normal" fill="#333" stroke="#333" stroke-width="0.1" transform="rotate(-45 473.40 118.30)">&#8722;/&#8722;</text>
<line x1="481.95" y1="107.30" x2="481.95" y2="110.30" stroke="#444" stroke-width="0.8"/>
<text x="484.45" y="118.30" font-size="7.0" text-anchor="end" font-weight="normal" fill="#333" stroke="#333" stroke-width="0.1" transform="rotate(-45 484.45 118.30)">+/+</text>
<line x1="493.00" y1="107.30" x2="493.00" y2="110.30" stroke="#444" stroke-width="0.8"/>
<text x="495.50" y="118.30" font-size="7.0" text-anchor="end" font-weight="normal" fill="#333" stroke="#333" stroke-width="0.1" transform="rotate(-45 495.50 118.30)">+/&#8722;</text>
<line x1="504.05" y1="107.30" x2="504.05" y2="110.30" stroke="#444" stroke-width="0.8"/>
<text x="506.55" y="118.30" font-size="7.0" text-anchor="end" font-weight="normal" fill="#333" stroke="#333" stroke-width="0.1" transform="rotate(-45 506.55 118.30)">&#8722;/&#8722;</text>
<line x1="446.80" y1="128.80" x2="468.90" y2="128.80" stroke="#555" stroke-width="1.1"/>
<line x1="479.95" y1="128.80" x2="502.05" y2="128.80" stroke="#555" stroke-width="1.1"/>
<text x="457.95" y="137.60" font-size="6.2" text-anchor="middle" font-weight="normal" fill="#222" stroke="#222" stroke-width="0.1" textLength="21.20" lengthAdjust="spacingAndGlyphs">Resting</text>
<text x="491.10" y="137.60" font-size="6.2" text-anchor="middle" font-weight="normal" fill="#222" stroke="#222" stroke-width="0.1" textLength="25.40" lengthAdjust="spacingAndGlyphs">0.1 U/mL</text>
<text x="414.25" y="76.20" font-size="7.4" text-anchor="middle" font-weight="bold" fill="#222" stroke="#222" stroke-width="0.05" textLength="13.90" lengthAdjust="spacingAndGlyphs" transform="rotate(-90 414.25 76.20)">GMFI</text>
<rect x="89.30" y="222.68" width="6.00" height="11.62" fill="#c6c6c8"/>
<rect x="100.35" y="224.02" width="6.00" height="10.28" fill="#f39200"/>
<rect x="111.40" y="223.26" width="6.00" height="11.04" fill="#c8102e"/>
<rect x="122.45" y="202.93" width="6.00" height="31.37" fill="#c6c6c8"/>
<rect x="133.50" y="196.83" width="6.00" height="37.47" fill="#f39200"/>
<rect x="144.55" y="212.05" width="6.00" height="22.25" fill="#c8102e"/>
<line x1="92.30" y1="223.18" x2="92.30" y2="216.87" stroke="#1a1a1a" stroke-width="1"/>
<line x1="90.70" y1="216.87" x2="93.90" y2="216.87" stroke="#1a1a1a" stroke-width="1"/>
<line x1="92.30" y1="222.68" x2="92.30" y2="228.49" stroke="#1a1a1a" stroke-width="0.9"/>
<line x1="90.70" y1="228.49" x2="93.90" y2="228.49" stroke="#1a1a1a" stroke-width="0.9"/>
<circle cx="92.30" cy="213.97" r="1.35" fill="#222"/>
<circle cx="92.30" cy="218.61" r="1.35" fill="#222"/>
<circle cx="89.80" cy="221.81" r="1.35" fill="#222"/>
<circle cx="94.80" cy="221.81" r="1.35" fill="#222"/>
<circle cx="92.30" cy="222.39" r="1.35" fill="#222"/>
<line x1="103.35" y1="224.52" x2="103.35" y2="219.95" stroke="#1a1a1a" stroke-width="1"/>
<line x1="101.75" y1="219.95" x2="104.95" y2="219.95" stroke="#1a1a1a" stroke-width="1"/>
<line x1="103.35" y1="224.02" x2="103.35" y2="228.08" stroke="#1a1a1a" stroke-width="0.9"/>
<line x1="101.75" y1="228.08" x2="104.95" y2="228.08" stroke="#1a1a1a" stroke-width="0.9"/>
<circle cx="103.35" cy="218.32" r="1.35" fill="#222"/>
<circle cx="102.85" cy="221.23" r="1.35" fill="#222"/>
<circle cx="100.85" cy="223.26" r="1.35" fill="#222"/>
<circle cx="105.85" cy="222.97" r="1.35" fill="#222"/>
<circle cx="103.35" cy="223.55" r="1.35" fill="#222"/>
<line x1="114.40" y1="223.76" x2="114.40" y2="217.45" stroke="#1a1a1a" stroke-width="1"/>
<line x1="112.80" y1="217.45" x2="116.00" y2="217.45" stroke="#1a1a1a" stroke-width="1"/>
<line x1="114.40" y1="223.26" x2="114.40" y2="229.07" stroke="#1a1a1a" stroke-width="0.9"/>
<line x1="112.80" y1="229.07" x2="116.00" y2="229.07" stroke="#1a1a1a" stroke-width="0.9"/>
<circle cx="114.40" cy="215.82" r="1.35" fill="#222"/>
<circle cx="115.90" cy="220.94" r="1.35" fill="#222"/>
<circle cx="111.90" cy="222.68" r="1.35" fill="#222"/>
<circle cx="116.90" cy="222.39" r="1.35" fill="#222"/>
<circle cx="114.40" cy="223.84" r="1.35" fill="#222"/>
<line x1="125.45" y1="203.43" x2="125.45" y2="192.70" stroke="#1a1a1a" stroke-width="1"/>
<line x1="123.85" y1="192.70" x2="127.05" y2="192.70" stroke="#1a1a1a" stroke-width="1"/>
<line x1="125.45" y1="202.93" x2="125.45" y2="213.15" stroke="#1a1a1a" stroke-width="0.9"/>
<line x1="123.85" y1="213.15" x2="127.05" y2="213.15" stroke="#1a1a1a" stroke-width="0.9"/>
<circle cx="125.45" cy="186.08" r="1.35" fill="#222"/>
<circle cx="125.45" cy="199.09" r="1.35" fill="#222"/>
<circle cx="125.45" cy="204.09" r="1.35" fill="#222"/>
<circle cx="125.45" cy="209.08" r="1.35" fill="#222"/>
<circle cx="125.45" cy="212.86" r="1.35" fill="#222"/>
<line x1="136.50" y1="197.33" x2="136.50" y2="192.18" stroke="#1a1a1a" stroke-width="1"/>
<line x1="134.90" y1="192.18" x2="138.10" y2="192.18" stroke="#1a1a1a" stroke-width="1"/>
<line x1="136.50" y1="196.83" x2="136.50" y2="201.47" stroke="#1a1a1a" stroke-width="0.9"/>
<line x1="134.90" y1="201.47" x2="138.10" y2="201.47" stroke="#1a1a1a" stroke-width="0.9"/>
<circle cx="133.70" cy="194.50" r="1.35" fill="#222"/>
<circle cx="139.30" cy="194.50" r="1.35" fill="#222"/>
<circle cx="136.50" cy="198.28" r="1.35" fill="#222"/>
<circle cx="134.00" cy="199.44" r="1.35" fill="#222"/>
<circle cx="136.50" cy="207.46" r="1.35" fill="#222"/>
<line x1="147.55" y1="212.55" x2="147.55" y2="209.72" stroke="#1a1a1a" stroke-width="1"/>
<line x1="145.95" y1="209.72" x2="149.15" y2="209.72" stroke="#1a1a1a" stroke-width="1"/>
<line x1="147.55" y1="212.05" x2="147.55" y2="214.37" stroke="#1a1a1a" stroke-width="0.9"/>
<line x1="145.95" y1="214.37" x2="149.15" y2="214.37" stroke="#1a1a1a" stroke-width="0.9"/>
<circle cx="147.55" cy="209.49" r="1.35" fill="#222"/>
<circle cx="145.05" cy="211.06" r="1.35" fill="#222"/>
<circle cx="150.05" cy="211.06" r="1.35" fill="#222"/>
<circle cx="147.55" cy="212.80" r="1.35" fill="#222"/>
<circle cx="147.55" cy="213.38" r="1.35" fill="#222"/>
<line x1="85.20" y1="234.30" x2="85.20" y2="173.20" stroke="#222" stroke-width="1.1"/>
<line x1="84.70" y1="234.30" x2="155.20" y2="234.30" stroke="#222" stroke-width="1.1"/>
<line x1="82.20" y1="234.30" x2="85.20" y2="234.30" stroke="#222" stroke-width="0.9"/>
<text x="79.15" y="236.50" font-size="6" text-anchor="end" font-weight="normal" fill="#2a2a2a" stroke="#2a2a2a" stroke-width="0.06" textLength="3.22" lengthAdjust="spacing">0</text>
<line x1="82.20" y1="222.68" x2="85.20" y2="222.68" stroke="#222" stroke-width="0.9"/>
<text x="79.15" y="224.88" font-size="6" text-anchor="end" font-weight="normal" fill="#2a2a2a" stroke="#2a2a2a" stroke-width="0.06" textLength="10.46" lengthAdjust="spacing">200</text>
<line x1="82.20" y1="211.06" x2="85.20" y2="211.06" stroke="#222" stroke-width="0.9"/>
<text x="79.15" y="213.26" font-size="6" text-anchor="end" font-weight="normal" fill="#2a2a2a" stroke="#2a2a2a" stroke-width="0.06" textLength="10.46" lengthAdjust="spacing">400</text>
<line x1="82.20" y1="199.44" x2="85.20" y2="199.44" stroke="#222" stroke-width="0.9"/>
<text x="79.15" y="201.64" font-size="6" text-anchor="end" font-weight="normal" fill="#2a2a2a" stroke="#2a2a2a" stroke-width="0.06" textLength="10.46" lengthAdjust="spacing">600</text>
<line x1="82.20" y1="187.82" x2="85.20" y2="187.82" stroke="#222" stroke-width="0.9"/>
<text x="79.15" y="190.02" font-size="6" text-anchor="end" font-weight="normal" fill="#2a2a2a" stroke="#2a2a2a" stroke-width="0.06" textLength="10.46" lengthAdjust="spacing">800</text>
<line x1="82.20" y1="176.20" x2="85.20" y2="176.20" stroke="#222" stroke-width="0.9"/>
<text x="79.15" y="178.40" font-size="6" text-anchor="end" font-weight="normal" fill="#2a2a2a" stroke="#2a2a2a" stroke-width="0.06" textLength="14.08" lengthAdjust="spacing">1000</text>
<line x1="92.30" y1="234.30" x2="92.30" y2="237.30" stroke="#444" stroke-width="0.8"/>
<text x="94.80" y="245.30" font-size="7.0" text-anchor="end" font-weight="normal" fill="#333" stroke="#333" stroke-width="0.1" transform="rotate(-45 94.80 245.30)">+/+</text>
<line x1="103.35" y1="234.30" x2="103.35" y2="237.30" stroke="#444" stroke-width="0.8"/>
<text x="105.85" y="245.30" font-size="7.0" text-anchor="end" font-weight="normal" fill="#333" stroke="#333" stroke-width="0.1" transform="rotate(-45 105.85 245.30)">+/&#8722;</text>
<line x1="114.40" y1="234.30" x2="114.40" y2="237.30" stroke="#444" stroke-width="0.8"/>
<text x="116.90" y="245.30" font-size="7.0" text-anchor="end" font-weight="normal" fill="#333" stroke="#333" stroke-width="0.1" transform="rotate(-45 116.90 245.30)">&#8722;/&#8722;</text>
<line x1="125.45" y1="234.30" x2="125.45" y2="237.30" stroke="#444" stroke-width="0.8"/>
<text x="127.95" y="245.30" font-size="7.0" text-anchor="end" font-weight="normal" fill="#333" stroke="#333" stroke-width="0.1" transform="rotate(-45 127.95 245.30)">+/+</text>
<line x1="136.50" y1="234.30" x2="136.50" y2="237.30" stroke="#444" stroke-width="0.8"/>
<text x="139.00" y="245.30" font-size="7.0" text-anchor="end" font-weight="normal" fill="#333" stroke="#333" stroke-width="0.1" transform="rotate(-45 139.00 245.30)">+/&#8722;</text>
<line x1="147.55" y1="234.30" x2="147.55" y2="237.30" stroke="#444" stroke-width="0.8"/>
<text x="150.05" y="245.30" font-size="7.0" text-anchor="end" font-weight="normal" fill="#333" stroke="#333" stroke-width="0.1" transform="rotate(-45 150.05 245.30)">&#8722;/&#8722;</text>
<line x1="90.30" y1="255.80" x2="112.40" y2="255.80" stroke="#555" stroke-width="1.1"/>
<line x1="123.45" y1="255.80" x2="145.55" y2="255.80" stroke="#555" stroke-width="1.1"/>
<text x="101.45" y="264.60" font-size="6.2" text-anchor="middle" font-weight="normal" fill="#222" stroke="#222" stroke-width="0.1" textLength="21.20" lengthAdjust="spacingAndGlyphs">Resting</text>
<text x="134.60" y="264.60" font-size="6.2" text-anchor="middle" font-weight="normal" fill="#222" stroke="#222" stroke-width="0.1" textLength="30.20" lengthAdjust="spacingAndGlyphs">100 ng/mL</text>
<text x="58.05" y="203.70" font-size="7.4" text-anchor="middle" font-weight="bold" fill="#222" stroke="#222" stroke-width="0.05" textLength="14.20" lengthAdjust="spacingAndGlyphs" transform="rotate(-90 58.05 203.70)">GMFI</text>
<text x="142.20" y="176.10" font-size="6" text-anchor="middle" font-weight="normal" fill="#222" stroke="#222" stroke-width="0.16" textLength="19.40" lengthAdjust="spacingAndGlyphs">0.0175</text>
<path d="M136.3 189.9 V179.5 H147.8 V209" stroke="#555" stroke-width="1" fill="none"/>
<rect x="208.70" y="207.42" width="6.00" height="26.88" fill="#c6c6c8"/>
<rect x="219.75" y="206.56" width="6.00" height="27.74" fill="#f39200"/>
<rect x="230.80" y="207.13" width="6.00" height="27.17" fill="#c8102e"/>
<rect x="241.85" y="205.31" width="6.00" height="28.99" fill="#c6c6c8"/>
<rect x="252.90" y="203.98" width="6.00" height="30.32" fill="#f39200"/>
<rect x="263.95" y="205.69" width="6.00" height="28.61" fill="#c8102e"/>
<line x1="211.70" y1="207.92" x2="211.70" y2="194.27" stroke="#1a1a1a" stroke-width="1"/>
<line x1="210.10" y1="194.27" x2="213.30" y2="194.27" stroke="#1a1a1a" stroke-width="1"/>
<line x1="211.70" y1="207.42" x2="211.70" y2="220.57" stroke="#1a1a1a" stroke-width="0.9"/>
<line x1="210.10" y1="220.57" x2="213.30" y2="220.57" stroke="#1a1a1a" stroke-width="0.9"/>
<circle cx="211.70" cy="194.85" r="1.35" fill="#222"/>
<circle cx="211.70" cy="199.48" r="1.35" fill="#222"/>
<circle cx="211.70" cy="206.56" r="1.35" fill="#222"/>
<circle cx="208.70" cy="217.05" r="1.35" fill="#222"/>
<circle cx="214.70" cy="217.05" r="1.35" fill="#222"/>
<line x1="222.75" y1="207.06" x2="222.75" y2="197.02" stroke="#1a1a1a" stroke-width="1"/>
<line x1="221.15" y1="197.02" x2="224.35" y2="197.02" stroke="#1a1a1a" stroke-width="1"/>
<line x1="222.75" y1="206.56" x2="222.75" y2="216.09" stroke="#1a1a1a" stroke-width="0.9"/>
<line x1="221.15" y1="216.09" x2="224.35" y2="216.09" stroke="#1a1a1a" stroke-width="0.9"/>
<circle cx="219.55" cy="198.75" r="1.35" fill="#222"/>
<circle cx="225.95" cy="199.19" r="1.35" fill="#222"/>
<circle cx="222.75" cy="197.02" r="1.35" fill="#222"/>
<circle cx="222.75" cy="217.05" r="1.35" fill="#222"/>
<circle cx="220.25" cy="216.38" r="1.35" fill="#222"/>
<line x1="233.80" y1="207.63" x2="233.80" y2="197.60" stroke="#1a1a1a" stroke-width="1"/>
<line x1="232.20" y1="197.60" x2="235.40" y2="197.60" stroke="#1a1a1a" stroke-width="1"/>
<line x1="233.80" y1="207.13" x2="233.80" y2="216.67" stroke="#1a1a1a" stroke-width="0.9"/>
<line x1="232.20" y1="216.67" x2="235.40" y2="216.67" stroke="#1a1a1a" stroke-width="0.9"/>
<circle cx="230.50" cy="197.37" r="1.35" fill="#222"/>
<circle cx="237.10" cy="197.37" r="1.35" fill="#222"/>
<circle cx="233.80" cy="196.73" r="1.35" fill="#222"/>
<circle cx="230.80" cy="217.05" r="1.35" fill="#222"/>
<circle cx="236.80" cy="217.05" r="1.35" fill="#222"/>
<line x1="244.85" y1="205.81" x2="244.85" y2="193.46" stroke="#1a1a1a" stroke-width="1"/>
<line x1="243.25" y1="193.46" x2="246.45" y2="193.46" stroke="#1a1a1a" stroke-width="1"/>
<line x1="244.85" y1="205.31" x2="244.85" y2="217.16" stroke="#1a1a1a" stroke-width="0.9"/>
<line x1="243.25" y1="217.16" x2="246.45" y2="217.16" stroke="#1a1a1a" stroke-width="0.9"/>
<circle cx="244.85" cy="193.46" r="1.35" fill="#222"/>
<circle cx="244.85" cy="198.67" r="1.35" fill="#222"/>
<circle cx="244.85" cy="203.96" r="1.35" fill="#222"/>
<circle cx="244.85" cy="211.82" r="1.35" fill="#222"/>
<circle cx="244.85" cy="215.02" r="1.35" fill="#222"/>
<line x1="255.90" y1="204.48" x2="255.90" y2="192.86" stroke="#1a1a1a" stroke-width="1"/>
<line x1="254.30" y1="192.86" x2="257.50" y2="192.86" stroke="#1a1a1a" stroke-width="1"/>
<line x1="255.90" y1="203.98" x2="255.90" y2="215.11" stroke="#1a1a1a" stroke-width="0.9"/>
<line x1="254.30" y1="215.11" x2="257.50" y2="215.11" stroke="#1a1a1a" stroke-width="0.9"/>
<circle cx="255.90" cy="192.86" r="1.35" fill="#222"/>
<circle cx="255.90" cy="196.73" r="1.35" fill="#222"/>
<circle cx="255.90" cy="202.51" r="1.35" fill="#222"/>
<circle cx="252.60" cy="213.12" r="1.35" fill="#222"/>
<circle cx="259.20" cy="213.12" r="1.35" fill="#222"/>
<line x1="266.95" y1="206.19" x2="266.95" y2="197.02" stroke="#1a1a1a" stroke-width="1"/>
<line x1="265.35" y1="197.02" x2="268.55" y2="197.02" stroke="#1a1a1a" stroke-width="1"/>
<line x1="266.95" y1="205.69" x2="266.95" y2="214.36" stroke="#1a1a1a" stroke-width="0.9"/>
<line x1="265.35" y1="214.36" x2="268.55" y2="214.36" stroke="#1a1a1a" stroke-width="0.9"/>
<circle cx="263.65" cy="198.67" r="1.35" fill="#222"/>
<circle cx="270.25" cy="198.67" r="1.35" fill="#222"/>
<circle cx="266.95" cy="196.73" r="1.35" fill="#222"/>
<circle cx="263.65" cy="213.61" r="1.35" fill="#222"/>
<circle cx="270.25" cy="213.61" r="1.35" fill="#222"/>
<line x1="204.60" y1="234.30" x2="204.60" y2="173.50" stroke="#222" stroke-width="1.1"/>
<line x1="204.10" y1="234.30" x2="274.60" y2="234.30" stroke="#222" stroke-width="1.1"/>
<line x1="201.60" y1="234.30" x2="204.60" y2="234.30" stroke="#222" stroke-width="0.9"/>
<text x="198.20" y="236.50" font-size="6" text-anchor="end" font-weight="normal" fill="#2a2a2a" stroke="#2a2a2a" stroke-width="0.06" textLength="3.22" lengthAdjust="spacing">0</text>
<line x1="201.60" y1="219.85" x2="204.60" y2="219.85" stroke="#222" stroke-width="0.9"/>
<text x="198.20" y="222.05" font-size="6" text-anchor="end" font-weight="normal" fill="#2a2a2a" stroke="#2a2a2a" stroke-width="0.06" textLength="10.46" lengthAdjust="spacing">500</text>
<line x1="201.60" y1="205.40" x2="204.60" y2="205.40" stroke="#222" stroke-width="0.9"/>
<text x="198.20" y="207.60" font-size="6" text-anchor="end" font-weight="normal" fill="#2a2a2a" stroke="#2a2a2a" stroke-width="0.06" textLength="14.08" lengthAdjust="spacing">1000</text>
<line x1="201.60" y1="190.95" x2="204.60" y2="190.95" stroke="#222" stroke-width="0.9"/>
<text x="198.20" y="193.15" font-size="6" text-anchor="end" font-weight="normal" fill="#2a2a2a" stroke="#2a2a2a" stroke-width="0.06" textLength="14.08" lengthAdjust="spacing">1500</text>
<line x1="201.60" y1="176.50" x2="204.60" y2="176.50" stroke="#222" stroke-width="0.9"/>
<text x="198.20" y="178.70" font-size="6" text-anchor="end" font-weight="normal" fill="#2a2a2a" stroke="#2a2a2a" stroke-width="0.06" textLength="14.08" lengthAdjust="spacing">2000</text>
<line x1="211.70" y1="234.30" x2="211.70" y2="237.30" stroke="#444" stroke-width="0.8"/>
<text x="214.20" y="245.30" font-size="7.0" text-anchor="end" font-weight="normal" fill="#333" stroke="#333" stroke-width="0.1" transform="rotate(-45 214.20 245.30)">+/+</text>
<line x1="222.75" y1="234.30" x2="222.75" y2="237.30" stroke="#444" stroke-width="0.8"/>
<text x="225.25" y="245.30" font-size="7.0" text-anchor="end" font-weight="normal" fill="#333" stroke="#333" stroke-width="0.1" transform="rotate(-45 225.25 245.30)">+/&#8722;</text>
<line x1="233.80" y1="234.30" x2="233.80" y2="237.30" stroke="#444" stroke-width="0.8"/>
<text x="236.30" y="245.30" font-size="7.0" text-anchor="end" font-weight="normal" fill="#333" stroke="#333" stroke-width="0.1" transform="rotate(-45 236.30 245.30)">&#8722;/&#8722;</text>
<line x1="244.85" y1="234.30" x2="244.85" y2="237.30" stroke="#444" stroke-width="0.8"/>
<text x="247.35" y="245.30" font-size="7.0" text-anchor="end" font-weight="normal" fill="#333" stroke="#333" stroke-width="0.1" transform="rotate(-45 247.35 245.30)">+/+</text>
<line x1="255.90" y1="234.30" x2="255.90" y2="237.30" stroke="#444" stroke-width="0.8"/>
<text x="258.40" y="245.30" font-size="7.0" text-anchor="end" font-weight="normal" fill="#333" stroke="#333" stroke-width="0.1" transform="rotate(-45 258.40 245.30)">+/&#8722;</text>
<line x1="266.95" y1="234.30" x2="266.95" y2="237.30" stroke="#444" stroke-width="0.8"/>
<text x="269.45" y="245.30" font-size="7.0" text-anchor="end" font-weight="normal" fill="#333" stroke="#333" stroke-width="0.1" transform="rotate(-45 269.45 245.30)">&#8722;/&#8722;</text>
<line x1="209.70" y1="255.80" x2="231.80" y2="255.80" stroke="#555" stroke-width="1.1"/>
<line x1="242.85" y1="255.80" x2="264.95" y2="255.80" stroke="#555" stroke-width="1.1"/>
<text x="220.85" y="264.60" font-size="6.2" text-anchor="middle" font-weight="normal" fill="#222" stroke="#222" stroke-width="0.1" textLength="21.20" lengthAdjust="spacingAndGlyphs">Resting</text>
<text x="254.00" y="264.60" font-size="6.2" text-anchor="middle" font-weight="normal" fill="#222" stroke="#222" stroke-width="0.1" textLength="30.20" lengthAdjust="spacingAndGlyphs">100 ng/mL</text>
<text x="177.35" y="203.90" font-size="7.4" text-anchor="middle" font-weight="bold" fill="#222" stroke="#222" stroke-width="0.05" textLength="14.00" lengthAdjust="spacingAndGlyphs" transform="rotate(-90 177.35 203.90)">GMFI</text>
<rect x="327.50" y="227.40" width="6.00" height="6.90" fill="#c6c6c8"/>
<rect x="338.55" y="228.66" width="6.00" height="5.64" fill="#f39200"/>
<rect x="349.60" y="227.40" width="6.00" height="6.90" fill="#c8102e"/>
<rect x="360.65" y="206.66" width="6.00" height="27.64" fill="#c6c6c8"/>
<rect x="371.70" y="202.04" width="6.00" height="32.26" fill="#f39200"/>
<rect x="382.75" y="215.35" width="6.00" height="18.95" fill="#c8102e"/>
<line x1="330.50" y1="227.90" x2="330.50" y2="224.00" stroke="#1a1a1a" stroke-width="1"/>
<line x1="328.90" y1="224.00" x2="332.10" y2="224.00" stroke="#1a1a1a" stroke-width="1"/>
<line x1="330.50" y1="227.40" x2="330.50" y2="230.80" stroke="#1a1a1a" stroke-width="0.9"/>
<line x1="328.90" y1="230.80" x2="332.10" y2="230.80" stroke="#1a1a1a" stroke-width="0.9"/>
<circle cx="330.50" cy="220.50" r="1.35" fill="#222"/>
<circle cx="330.50" cy="224.10" r="1.35" fill="#222"/>
<circle cx="328.00" cy="227.40" r="1.35" fill="#222"/>
<circle cx="333.00" cy="227.40" r="1.35" fill="#222"/>
<circle cx="330.50" cy="227.50" r="1.35" fill="#222"/>
<line x1="341.55" y1="229.16" x2="341.55" y2="227.21" stroke="#1a1a1a" stroke-width="1"/>
<line x1="339.95" y1="227.21" x2="343.15" y2="227.21" stroke="#1a1a1a" stroke-width="1"/>
<line x1="341.55" y1="228.66" x2="341.55" y2="230.12" stroke="#1a1a1a" stroke-width="0.9"/>
<line x1="339.95" y1="230.12" x2="343.15" y2="230.12" stroke="#1a1a1a" stroke-width="0.9"/>
<circle cx="339.55" cy="227.30" r="1.35" fill="#222"/>
<circle cx="344.05" cy="227.98" r="1.35" fill="#222"/>
<circle cx="341.55" cy="228.66" r="1.35" fill="#222"/>
<circle cx="339.05" cy="228.86" r="1.35" fill="#222"/>
<circle cx="344.05" cy="228.47" r="1.35" fill="#222"/>
<line x1="352.60" y1="227.90" x2="352.60" y2="224.97" stroke="#1a1a1a" stroke-width="1"/>
<line x1="351.00" y1="224.97" x2="354.20" y2="224.97" stroke="#1a1a1a" stroke-width="1"/>
<line x1="352.60" y1="227.40" x2="352.60" y2="229.83" stroke="#1a1a1a" stroke-width="0.9"/>
<line x1="351.00" y1="229.83" x2="354.20" y2="229.83" stroke="#1a1a1a" stroke-width="0.9"/>
<circle cx="349.40" cy="224.97" r="1.35" fill="#222"/>
<circle cx="355.80" cy="224.49" r="1.35" fill="#222"/>
<circle cx="352.60" cy="227.30" r="1.35" fill="#222"/>
<circle cx="350.10" cy="227.50" r="1.35" fill="#222"/>
<circle cx="355.10" cy="227.50" r="1.35" fill="#222"/>
<line x1="363.65" y1="207.16" x2="363.65" y2="194.02" stroke="#1a1a1a" stroke-width="1"/>
<line x1="362.05" y1="194.02" x2="365.25" y2="194.02" stroke="#1a1a1a" stroke-width="1"/>
<line x1="363.65" y1="206.66" x2="363.65" y2="219.29" stroke="#1a1a1a" stroke-width="0.9"/>
<line x1="362.05" y1="219.29" x2="365.25" y2="219.29" stroke="#1a1a1a" stroke-width="0.9"/>
<circle cx="363.65" cy="191.94" r="1.35" fill="#222"/>
<circle cx="363.65" cy="194.95" r="1.35" fill="#222"/>
<circle cx="363.65" cy="207.97" r="1.35" fill="#222"/>
<circle cx="366.95" cy="214.77" r="1.35" fill="#222"/>
<circle cx="360.35" cy="217.00" r="1.35" fill="#222"/>
<line x1="374.70" y1="202.54" x2="374.70" y2="192.32" stroke="#1a1a1a" stroke-width="1"/>
<line x1="373.10" y1="192.32" x2="376.30" y2="192.32" stroke="#1a1a1a" stroke-width="1"/>
<line x1="374.70" y1="202.04" x2="374.70" y2="211.76" stroke="#1a1a1a" stroke-width="0.9"/>
<line x1="373.10" y1="211.76" x2="376.30" y2="211.76" stroke="#1a1a1a" stroke-width="0.9"/>
<circle cx="374.70" cy="188.44" r="1.35" fill="#222"/>
<circle cx="374.70" cy="193.49" r="1.35" fill="#222"/>
<circle cx="374.70" cy="204.18" r="1.35" fill="#222"/>
<circle cx="374.70" cy="207.48" r="1.35" fill="#222"/>
<circle cx="374.70" cy="211.17" r="1.35" fill="#222"/>
<line x1="385.75" y1="215.85" x2="385.75" y2="213.41" stroke="#1a1a1a" stroke-width="1"/>
<line x1="384.15" y1="213.41" x2="387.35" y2="213.41" stroke="#1a1a1a" stroke-width="1"/>
<line x1="385.75" y1="215.35" x2="385.75" y2="217.30" stroke="#1a1a1a" stroke-width="0.9"/>
<line x1="384.15" y1="217.30" x2="387.35" y2="217.30" stroke="#1a1a1a" stroke-width="0.9"/>
<circle cx="382.55" cy="211.17" r="1.35" fill="#222"/>
<circle cx="388.95" cy="212.44" r="1.35" fill="#222"/>
<circle cx="383.75" cy="215.35" r="1.35" fill="#222"/>
<circle cx="387.75" cy="215.35" r="1.35" fill="#222"/>
<circle cx="385.75" cy="215.84" r="1.35" fill="#222"/>
<line x1="323.40" y1="234.30" x2="323.40" y2="173.00" stroke="#222" stroke-width="1.1"/>
<line x1="322.90" y1="234.30" x2="393.40" y2="234.30" stroke="#222" stroke-width="1.1"/>
<line x1="320.40" y1="234.30" x2="323.40" y2="234.30" stroke="#222" stroke-width="0.9"/>
<text x="316.75" y="236.50" font-size="6" text-anchor="end" font-weight="normal" fill="#2a2a2a" stroke="#2a2a2a" stroke-width="0.06" textLength="3.22" lengthAdjust="spacing">0</text>
<line x1="320.40" y1="214.87" x2="323.40" y2="214.87" stroke="#222" stroke-width="0.9"/>
<text x="316.75" y="217.07" font-size="6" text-anchor="end" font-weight="normal" fill="#2a2a2a" stroke="#2a2a2a" stroke-width="0.06" textLength="14.08" lengthAdjust="spacing">2000</text>
<line x1="320.40" y1="195.43" x2="323.40" y2="195.43" stroke="#222" stroke-width="0.9"/>
<text x="316.75" y="197.63" font-size="6" text-anchor="end" font-weight="normal" fill="#2a2a2a" stroke="#2a2a2a" stroke-width="0.06" textLength="14.08" lengthAdjust="spacing">4000</text>
<line x1="320.40" y1="176.00" x2="323.40" y2="176.00" stroke="#222" stroke-width="0.9"/>
<text x="316.75" y="178.20" font-size="6" text-anchor="end" font-weight="normal" fill="#2a2a2a" stroke="#2a2a2a" stroke-width="0.06" textLength="14.08" lengthAdjust="spacing">6000</text>
<line x1="330.50" y1="234.30" x2="330.50" y2="237.30" stroke="#444" stroke-width="0.8"/>
<text x="333.00" y="245.30" font-size="7.0" text-anchor="end" font-weight="normal" fill="#333" stroke="#333" stroke-width="0.1" transform="rotate(-45 333.00 245.30)">+/+</text>
<line x1="341.55" y1="234.30" x2="341.55" y2="237.30" stroke="#444" stroke-width="0.8"/>
<text x="344.05" y="245.30" font-size="7.0" text-anchor="end" font-weight="normal" fill="#333" stroke="#333" stroke-width="0.1" transform="rotate(-45 344.05 245.30)">+/&#8722;</text>
<line x1="352.60" y1="234.30" x2="352.60" y2="237.30" stroke="#444" stroke-width="0.8"/>
<text x="355.10" y="245.30" font-size="7.0" text-anchor="end" font-weight="normal" fill="#333" stroke="#333" stroke-width="0.1" transform="rotate(-45 355.10 245.30)">&#8722;/&#8722;</text>
<line x1="363.65" y1="234.30" x2="363.65" y2="237.30" stroke="#444" stroke-width="0.8"/>
<text x="366.15" y="245.30" font-size="7.0" text-anchor="end" font-weight="normal" fill="#333" stroke="#333" stroke-width="0.1" transform="rotate(-45 366.15 245.30)">+/+</text>
<line x1="374.70" y1="234.30" x2="374.70" y2="237.30" stroke="#444" stroke-width="0.8"/>
<text x="377.20" y="245.30" font-size="7.0" text-anchor="end" font-weight="normal" fill="#333" stroke="#333" stroke-width="0.1" transform="rotate(-45 377.20 245.30)">+/&#8722;</text>
<line x1="385.75" y1="234.30" x2="385.75" y2="237.30" stroke="#444" stroke-width="0.8"/>
<text x="388.25" y="245.30" font-size="7.0" text-anchor="end" font-weight="normal" fill="#333" stroke="#333" stroke-width="0.1" transform="rotate(-45 388.25 245.30)">&#8722;/&#8722;</text>
<line x1="328.50" y1="255.80" x2="350.60" y2="255.80" stroke="#555" stroke-width="1.1"/>
<line x1="361.65" y1="255.80" x2="383.75" y2="255.80" stroke="#555" stroke-width="1.1"/>
<text x="339.65" y="264.60" font-size="6.2" text-anchor="middle" font-weight="normal" fill="#222" stroke="#222" stroke-width="0.1" textLength="21.20" lengthAdjust="spacingAndGlyphs">Resting</text>
<text x="372.80" y="264.60" font-size="6.2" text-anchor="middle" font-weight="normal" fill="#222" stroke="#222" stroke-width="0.1" textLength="30.20" lengthAdjust="spacingAndGlyphs">100 ng/mL</text>
<text x="296.65" y="203.70" font-size="7.4" text-anchor="middle" font-weight="bold" fill="#222" stroke="#222" stroke-width="0.05" textLength="14.20" lengthAdjust="spacingAndGlyphs" transform="rotate(-90 296.65 203.70)">GMFI</text>
<text x="380.70" y="178.70" font-size="6" text-anchor="middle" font-weight="normal" fill="#222" stroke="#222" stroke-width="0.16" textLength="20.60" lengthAdjust="spacingAndGlyphs">0.0400</text>
<path d="M374.9 185.6 V181.6 H386.2 V208" stroke="#555" stroke-width="1" fill="none"/>
<rect x="447.30" y="184.05" width="6.00" height="50.25" fill="#c6c6c8"/>
<rect x="458.35" y="186.03" width="6.00" height="48.27" fill="#f39200"/>
<rect x="469.40" y="184.05" width="6.00" height="50.25" fill="#c8102e"/>
<rect x="480.45" y="184.05" width="6.00" height="50.25" fill="#c6c6c8"/>
<rect x="491.50" y="186.03" width="6.00" height="48.27" fill="#f39200"/>
<rect x="502.55" y="186.03" width="6.00" height="48.27" fill="#c8102e"/>
<line x1="450.30" y1="184.55" x2="450.30" y2="180.20" stroke="#1a1a1a" stroke-width="1"/>
<line x1="448.70" y1="180.20" x2="451.90" y2="180.20" stroke="#1a1a1a" stroke-width="1"/>
<line x1="450.30" y1="184.05" x2="450.30" y2="187.89" stroke="#1a1a1a" stroke-width="0.9"/>
<line x1="448.70" y1="187.89" x2="451.90" y2="187.89" stroke="#1a1a1a" stroke-width="0.9"/>
<circle cx="448.10" cy="180.20" r="1.35" fill="#222"/>
<circle cx="452.50" cy="180.20" r="1.35" fill="#222"/>
<circle cx="448.10" cy="187.78" r="1.35" fill="#222"/>
<circle cx="452.50" cy="187.78" r="1.35" fill="#222"/>
<line x1="461.35" y1="186.53" x2="461.35" y2="182.06" stroke="#1a1a1a" stroke-width="1"/>
<line x1="459.75" y1="182.06" x2="462.95" y2="182.06" stroke="#1a1a1a" stroke-width="1"/>
<line x1="461.35" y1="186.03" x2="461.35" y2="189.99" stroke="#1a1a1a" stroke-width="0.9"/>
<line x1="459.75" y1="189.99" x2="462.95" y2="189.99" stroke="#1a1a1a" stroke-width="0.9"/>
<circle cx="459.15" cy="182.06" r="1.35" fill="#222"/>
<circle cx="463.55" cy="182.06" r="1.35" fill="#222"/>
<circle cx="460.35" cy="188.83" r="1.35" fill="#222"/>
<circle cx="459.35" cy="190.46" r="1.35" fill="#222"/>
<circle cx="462.35" cy="188.24" r="1.35" fill="#222"/>
<line x1="472.40" y1="184.55" x2="472.40" y2="180.20" stroke="#1a1a1a" stroke-width="1"/>
<line x1="470.80" y1="180.20" x2="474.00" y2="180.20" stroke="#1a1a1a" stroke-width="1"/>
<line x1="472.40" y1="184.05" x2="472.40" y2="187.89" stroke="#1a1a1a" stroke-width="0.9"/>
<line x1="470.80" y1="187.89" x2="474.00" y2="187.89" stroke="#1a1a1a" stroke-width="0.9"/>
<circle cx="472.40" cy="178.80" r="1.35" fill="#222"/>
<circle cx="469.90" cy="183.23" r="1.35" fill="#222"/>
<circle cx="474.90" cy="183.81" r="1.35" fill="#222"/>
<circle cx="472.40" cy="185.33" r="1.35" fill="#222"/>
<line x1="483.45" y1="184.55" x2="483.45" y2="180.20" stroke="#1a1a1a" stroke-width="1"/>
<line x1="481.85" y1="180.20" x2="485.05" y2="180.20" stroke="#1a1a1a" stroke-width="1"/>
<line x1="483.45" y1="184.05" x2="483.45" y2="187.89" stroke="#1a1a1a" stroke-width="0.9"/>
<line x1="481.85" y1="187.89" x2="485.05" y2="187.89" stroke="#1a1a1a" stroke-width="0.9"/>
<circle cx="481.25" cy="180.20" r="1.35" fill="#222"/>
<circle cx="485.65" cy="180.20" r="1.35" fill="#222"/>
<circle cx="481.25" cy="187.78" r="1.35" fill="#222"/>
<circle cx="485.65" cy="187.78" r="1.35" fill="#222"/>
<line x1="494.50" y1="186.53" x2="494.50" y2="182.06" stroke="#1a1a1a" stroke-width="1"/>
<line x1="492.90" y1="182.06" x2="496.10" y2="182.06" stroke="#1a1a1a" stroke-width="1"/>
<line x1="494.50" y1="186.03" x2="494.50" y2="189.99" stroke="#1a1a1a" stroke-width="0.9"/>
<line x1="492.90" y1="189.99" x2="496.10" y2="189.99" stroke="#1a1a1a" stroke-width="0.9"/>
<circle cx="492.30" cy="182.06" r="1.35" fill="#222"/>
<circle cx="496.70" cy="182.06" r="1.35" fill="#222"/>
<circle cx="493.50" cy="188.83" r="1.35" fill="#222"/>
<circle cx="492.50" cy="189.99" r="1.35" fill="#222"/>
<circle cx="495.50" cy="188.24" r="1.35" fill="#222"/>
<line x1="505.55" y1="186.53" x2="505.55" y2="182.53" stroke="#1a1a1a" stroke-width="1"/>
<line x1="503.95" y1="182.53" x2="507.15" y2="182.53" stroke="#1a1a1a" stroke-width="1"/>
<line x1="505.55" y1="186.03" x2="505.55" y2="189.53" stroke="#1a1a1a" stroke-width="0.9"/>
<line x1="503.95" y1="189.53" x2="507.15" y2="189.53" stroke="#1a1a1a" stroke-width="0.9"/>
<circle cx="505.55" cy="180.78" r="1.35" fill="#222"/>
<circle cx="503.05" cy="185.33" r="1.35" fill="#222"/>
<circle cx="508.05" cy="185.33" r="1.35" fill="#222"/>
<circle cx="505.55" cy="186.49" r="1.35" fill="#222"/>
<line x1="443.20" y1="234.30" x2="443.20" y2="173.00" stroke="#222" stroke-width="1.1"/>
<line x1="442.70" y1="234.30" x2="513.20" y2="234.30" stroke="#222" stroke-width="1.1"/>
<line x1="440.20" y1="234.30" x2="443.20" y2="234.30" stroke="#222" stroke-width="0.9"/>
<text x="437.15" y="236.50" font-size="6" text-anchor="end" font-weight="normal" fill="#2a2a2a" stroke="#2a2a2a" stroke-width="0.06" textLength="3.22" lengthAdjust="spacing">0</text>
<line x1="440.20" y1="222.64" x2="443.20" y2="222.64" stroke="#222" stroke-width="0.9"/>
<text x="437.15" y="224.84" font-size="6" text-anchor="end" font-weight="normal" fill="#2a2a2a" stroke="#2a2a2a" stroke-width="0.06" textLength="14.08" lengthAdjust="spacing">1000</text>
<line x1="440.20" y1="210.98" x2="443.20" y2="210.98" stroke="#222" stroke-width="0.9"/>
<text x="437.15" y="213.18" font-size="6" text-anchor="end" font-weight="normal" fill="#2a2a2a" stroke="#2a2a2a" stroke-width="0.06" textLength="14.08" lengthAdjust="spacing">2000</text>
<line x1="440.20" y1="199.32" x2="443.20" y2="199.32" stroke="#222" stroke-width="0.9"/>
<text x="437.15" y="201.52" font-size="6" text-anchor="end" font-weight="normal" fill="#2a2a2a" stroke="#2a2a2a" stroke-width="0.06" textLength="14.08" lengthAdjust="spacing">3000</text>
<line x1="440.20" y1="187.66" x2="443.20" y2="187.66" stroke="#222" stroke-width="0.9"/>
<text x="437.15" y="189.86" font-size="6" text-anchor="end" font-weight="normal" fill="#2a2a2a" stroke="#2a2a2a" stroke-width="0.06" textLength="14.08" lengthAdjust="spacing">4000</text>
<line x1="440.20" y1="176.00" x2="443.20" y2="176.00" stroke="#222" stroke-width="0.9"/>
<text x="437.15" y="178.20" font-size="6" text-anchor="end" font-weight="normal" fill="#2a2a2a" stroke="#2a2a2a" stroke-width="0.06" textLength="14.08" lengthAdjust="spacing">5000</text>
<line x1="450.30" y1="234.30" x2="450.30" y2="237.30" stroke="#444" stroke-width="0.8"/>
<text x="452.80" y="245.30" font-size="7.0" text-anchor="end" font-weight="normal" fill="#333" stroke="#333" stroke-width="0.1" transform="rotate(-45 452.80 245.30)">+/+</text>
<line x1="461.35" y1="234.30" x2="461.35" y2="237.30" stroke="#444" stroke-width="0.8"/>
<text x="463.85" y="245.30" font-size="7.0" text-anchor="end" font-weight="normal" fill="#333" stroke="#333" stroke-width="0.1" transform="rotate(-45 463.85 245.30)">+/&#8722;</text>
<line x1="472.40" y1="234.30" x2="472.40" y2="237.30" stroke="#444" stroke-width="0.8"/>
<text x="474.90" y="245.30" font-size="7.0" text-anchor="end" font-weight="normal" fill="#333" stroke="#333" stroke-width="0.1" transform="rotate(-45 474.90 245.30)">&#8722;/&#8722;</text>
<line x1="483.45" y1="234.30" x2="483.45" y2="237.30" stroke="#444" stroke-width="0.8"/>
<text x="485.95" y="245.30" font-size="7.0" text-anchor="end" font-weight="normal" fill="#333" stroke="#333" stroke-width="0.1" transform="rotate(-45 485.95 245.30)">+/+</text>
<line x1="494.50" y1="234.30" x2="494.50" y2="237.30" stroke="#444" stroke-width="0.8"/>
<text x="497.00" y="245.30" font-size="7.0" text-anchor="end" font-weight="normal" fill="#333" stroke="#333" stroke-width="0.1" transform="rotate(-45 497.00 245.30)">+/&#8722;</text>
<line x1="505.55" y1="234.30" x2="505.55" y2="237.30" stroke="#444" stroke-width="0.8"/>
<text x="508.05" y="245.30" font-size="7.0" text-anchor="end" font-weight="normal" fill="#333" stroke="#333" stroke-width="0.1" transform="rotate(-45 508.05 245.30)">&#8722;/&#8722;</text>
<line x1="448.30" y1="255.80" x2="470.40" y2="255.80" stroke="#555" stroke-width="1.1"/>
<line x1="481.45" y1="255.80" x2="503.55" y2="255.80" stroke="#555" stroke-width="1.1"/>
<text x="459.45" y="264.60" font-size="6.2" text-anchor="middle" font-weight="normal" fill="#222" stroke="#222" stroke-width="0.1" textLength="21.20" lengthAdjust="spacingAndGlyphs">Resting</text>
<text x="492.60" y="264.60" font-size="6.2" text-anchor="middle" font-weight="normal" fill="#222" stroke="#222" stroke-width="0.1" textLength="30.20" lengthAdjust="spacingAndGlyphs">100 ng/mL</text>
<text x="415.95" y="203.90" font-size="7.4" text-anchor="middle" font-weight="bold" fill="#222" stroke="#222" stroke-width="0.05" textLength="14.50" lengthAdjust="spacingAndGlyphs" transform="rotate(-90 415.95 203.90)">GMFI</text>
<line x1="84.90" y1="399.70" x2="84.90" y2="310.10" stroke="#222" stroke-width="1.1"/>
<line x1="84.40" y1="399.20" x2="196.20" y2="399.20" stroke="#222" stroke-width="1.1"/>
<line x1="81.90" y1="399.20" x2="84.90" y2="399.20" stroke="#222" stroke-width="0.9"/>
<text x="78.90" y="401.80" font-size="6.3" text-anchor="end" font-weight="normal" fill="#3a3a3a" stroke="#3a3a3a" stroke-width="0.04">0.00</text>
<line x1="81.90" y1="377.80" x2="84.90" y2="377.80" stroke="#222" stroke-width="0.9"/>
<text x="78.90" y="380.40" font-size="6.3" text-anchor="end" font-weight="normal" fill="#3a3a3a" stroke="#3a3a3a" stroke-width="0.04">0.02</text>
<line x1="81.90" y1="356.40" x2="84.90" y2="356.40" stroke="#222" stroke-width="0.9"/>
<text x="78.90" y="359.00" font-size="6.3" text-anchor="end" font-weight="normal" fill="#3a3a3a" stroke="#3a3a3a" stroke-width="0.04">0.04</text>
<line x1="81.90" y1="335.00" x2="84.90" y2="335.00" stroke="#222" stroke-width="0.9"/>
<text x="78.90" y="337.60" font-size="6.3" text-anchor="end" font-weight="normal" fill="#3a3a3a" stroke="#3a3a3a" stroke-width="0.04">0.06</text>
<line x1="81.90" y1="313.60" x2="84.90" y2="313.60" stroke="#222" stroke-width="0.9"/>
<text x="78.90" y="316.20" font-size="6.3" text-anchor="end" font-weight="normal" fill="#3a3a3a" stroke="#3a3a3a" stroke-width="0.04">0.08</text>
<line x1="85.20" y1="399.20" x2="85.20" y2="401.80" stroke="#222" stroke-width="0.9"/>
<text x="85.20" y="410.80" font-size="6" text-anchor="middle" font-weight="normal" fill="#222" stroke="#222" stroke-width="0.12">0</text>
<line x1="105.28" y1="399.20" x2="105.28" y2="401.80" stroke="#222" stroke-width="0.9"/>
<text x="105.28" y="410.80" font-size="6" text-anchor="middle" font-weight="normal" fill="#222" stroke="#222" stroke-width="0.12">2</text>
<line x1="125.36" y1="399.20" x2="125.36" y2="401.80" stroke="#222" stroke-width="0.9"/>
<text x="125.36" y="410.80" font-size="6" text-anchor="middle" font-weight="normal" fill="#222" stroke="#222" stroke-width="0.12">4</text>
<line x1="145.44" y1="399.20" x2="145.44" y2="401.80" stroke="#222" stroke-width="0.9"/>
<text x="145.44" y="410.80" font-size="6" text-anchor="middle" font-weight="normal" fill="#222" stroke="#222" stroke-width="0.12">6</text>
<line x1="165.52" y1="399.20" x2="165.52" y2="401.80" stroke="#222" stroke-width="0.9"/>
<text x="165.52" y="410.80" font-size="6" text-anchor="middle" font-weight="normal" fill="#222" stroke="#222" stroke-width="0.12">8</text>
<line x1="185.60" y1="399.20" x2="185.60" y2="401.80" stroke="#222" stroke-width="0.9"/>
<text x="185.60" y="410.80" font-size="6" text-anchor="middle" font-weight="normal" fill="#222" stroke="#222" stroke-width="0.12">10</text>
<text x="140.55" y="422.50" font-size="7.5" text-anchor="middle" font-weight="normal" fill="#222" stroke="#222" stroke-width="0.16" textLength="29.00" lengthAdjust="spacingAndGlyphs">Time (min)</text>
<text x="60.50" y="357.20" font-size="7.9" text-anchor="middle" font-weight="normal" fill="#1a1a1a" stroke="#1a1a1a" stroke-width="0.25" textLength="43.50" lengthAdjust="spacingAndGlyphs" transform="rotate(-90 60.50 357.20)">ATP release (nM)</text>
<text x="102.60" y="305.40" font-size="8.3" text-anchor="start" font-weight="normal" fill="#222" stroke="#222" stroke-width="0.15" textLength="76.20" lengthAdjust="spacingAndGlyphs">0.05 U/mL Thrombin</text>
<polyline points="85.20,399.20 105.28,393.31 125.36,384.75 145.44,369.24 165.52,348.91 185.60,332.86" stroke="#c8c8ca" stroke-width="1.1" fill="none"/>
<circle cx="85.20" cy="399.20" r="1.3" fill="#c8c8ca"/>
<line x1="105.28" y1="395.45" x2="105.28" y2="391.18" stroke="#c8c8ca" stroke-width="0.8"/>
<line x1="103.78" y1="391.18" x2="106.78" y2="391.18" stroke="#c8c8ca" stroke-width="0.8"/>
<line x1="103.78" y1="395.45" x2="106.78" y2="395.45" stroke="#c8c8ca" stroke-width="0.8"/>
<circle cx="105.28" cy="393.31" r="1.3" fill="#c8c8ca"/>
<line x1="125.36" y1="390.11" x2="125.36" y2="379.40" stroke="#c8c8ca" stroke-width="0.8"/>
<line x1="123.86" y1="379.40" x2="126.86" y2="379.40" stroke="#c8c8ca" stroke-width="0.8"/>
<line x1="123.86" y1="390.11" x2="126.86" y2="390.11" stroke="#c8c8ca" stroke-width="0.8"/>
<circle cx="125.36" cy="384.75" r="1.3" fill="#c8c8ca"/>
<line x1="145.44" y1="377.26" x2="145.44" y2="361.22" stroke="#c8c8ca" stroke-width="0.8"/>
<line x1="143.94" y1="361.22" x2="146.94" y2="361.22" stroke="#c8c8ca" stroke-width="0.8"/>
<line x1="143.94" y1="377.26" x2="146.94" y2="377.26" stroke="#c8c8ca" stroke-width="0.8"/>
<circle cx="145.44" cy="369.24" r="1.3" fill="#c8c8ca"/>
<line x1="165.52" y1="358.00" x2="165.52" y2="339.81" stroke="#c8c8ca" stroke-width="0.8"/>
<line x1="164.02" y1="339.81" x2="167.02" y2="339.81" stroke="#c8c8ca" stroke-width="0.8"/>
<line x1="164.02" y1="358.00" x2="167.02" y2="358.00" stroke="#c8c8ca" stroke-width="0.8"/>
<circle cx="165.52" cy="348.91" r="1.3" fill="#c8c8ca"/>
<line x1="185.60" y1="340.88" x2="185.60" y2="324.84" stroke="#c8c8ca" stroke-width="0.8"/>
<line x1="184.10" y1="324.84" x2="187.10" y2="324.84" stroke="#c8c8ca" stroke-width="0.8"/>
<line x1="184.10" y1="340.88" x2="187.10" y2="340.88" stroke="#c8c8ca" stroke-width="0.8"/>
<circle cx="185.60" cy="332.86" r="1.3" fill="#c8c8ca"/>
<polyline points="85.20,395.99 105.28,397.06 125.36,396.31 145.44,395.99 165.52,395.45 185.60,394.38" stroke="#c8102e" stroke-width="1.6" fill="none"/>
<circle cx="85.20" cy="395.99" r="1.3" fill="#c8102e"/>
<circle cx="105.28" cy="397.06" r="1.3" fill="#c8102e"/>
<circle cx="125.36" cy="396.31" r="1.3" fill="#c8102e"/>
<circle cx="145.44" cy="395.99" r="1.3" fill="#c8102e"/>
<circle cx="165.52" cy="395.45" r="1.3" fill="#c8102e"/>
<circle cx="185.60" cy="394.38" r="1.3" fill="#c8102e"/>
<line x1="90.40" y1="319.30" x2="97.90" y2="319.30" stroke="#c8c8ca" stroke-width="1.2"/>
<circle cx="94.15" cy="319.30" r="1.9" fill="#c8c8ca"/>
<text x="100.90" y="321.20" font-size="6.2" text-anchor="start" font-weight="normal" fill="#222" stroke="#222" stroke-width="0.06" textLength="9.90" lengthAdjust="spacingAndGlyphs">WT</text>
<line x1="90.40" y1="332.20" x2="97.90" y2="332.20" stroke="#c8102e" stroke-width="1.2"/>
<circle cx="94.15" cy="332.20" r="1.9" fill="#c8102e"/>
<text x="100.90" y="334.40" font-size="6.4" text-anchor="start" font-weight="normal" fill="#222" stroke="#222" stroke-width="0.12" textLength="22.20" lengthAdjust="spacingAndGlyphs">Unc13d</text>
<text x="123.60" y="330.60" font-size="3.8" text-anchor="start" font-weight="normal" fill="#222" stroke="#222" stroke-width="0.08" textLength="6.20" lengthAdjust="spacingAndGlyphs">Jinx</text>
<line x1="238.00" y1="399.70" x2="238.00" y2="317.00" stroke="#222" stroke-width="1.1"/>
<line x1="237.50" y1="399.20" x2="351.90" y2="399.20" stroke="#222" stroke-width="1.1"/>
<line x1="235.00" y1="399.20" x2="238.00" y2="399.20" stroke="#222" stroke-width="0.9"/>
<text x="232.00" y="401.80" font-size="6.3" text-anchor="end" font-weight="normal" fill="#3a3a3a" stroke="#3a3a3a" stroke-width="0.04">0</text>
<line x1="235.00" y1="379.52" x2="238.00" y2="379.52" stroke="#222" stroke-width="0.9"/>
<text x="232.00" y="382.12" font-size="6.3" text-anchor="end" font-weight="normal" fill="#3a3a3a" stroke="#3a3a3a" stroke-width="0.04">20</text>
<line x1="235.00" y1="359.85" x2="238.00" y2="359.85" stroke="#222" stroke-width="0.9"/>
<text x="232.00" y="362.45" font-size="6.3" text-anchor="end" font-weight="normal" fill="#3a3a3a" stroke="#3a3a3a" stroke-width="0.04">40</text>
<line x1="235.00" y1="340.18" x2="238.00" y2="340.18" stroke="#222" stroke-width="0.9"/>
<text x="232.00" y="342.78" font-size="6.3" text-anchor="end" font-weight="normal" fill="#3a3a3a" stroke="#3a3a3a" stroke-width="0.04">60</text>
<line x1="235.00" y1="320.50" x2="238.00" y2="320.50" stroke="#222" stroke-width="0.9"/>
<text x="232.00" y="323.10" font-size="6.3" text-anchor="end" font-weight="normal" fill="#3a3a3a" stroke="#3a3a3a" stroke-width="0.04">80</text>
<line x1="237.80" y1="399.20" x2="237.80" y2="401.80" stroke="#222" stroke-width="0.9"/>
<text x="237.80" y="410.80" font-size="6" text-anchor="middle" font-weight="normal" fill="#222" stroke="#222" stroke-width="0.12">0</text>
<line x1="258.60" y1="399.20" x2="258.60" y2="401.80" stroke="#222" stroke-width="0.9"/>
<text x="258.60" y="410.80" font-size="6" text-anchor="middle" font-weight="normal" fill="#222" stroke="#222" stroke-width="0.12">2</text>
<line x1="279.40" y1="399.20" x2="279.40" y2="401.80" stroke="#222" stroke-width="0.9"/>
<text x="279.40" y="410.80" font-size="6" text-anchor="middle" font-weight="normal" fill="#222" stroke="#222" stroke-width="0.12">4</text>
<line x1="300.20" y1="399.20" x2="300.20" y2="401.80" stroke="#222" stroke-width="0.9"/>
<text x="300.20" y="410.80" font-size="6" text-anchor="middle" font-weight="normal" fill="#222" stroke="#222" stroke-width="0.12">6</text>
<line x1="321.00" y1="399.20" x2="321.00" y2="401.80" stroke="#222" stroke-width="0.9"/>
<text x="321.00" y="410.80" font-size="6" text-anchor="middle" font-weight="normal" fill="#222" stroke="#222" stroke-width="0.12">8</text>
<line x1="341.80" y1="399.20" x2="341.80" y2="401.80" stroke="#222" stroke-width="0.9"/>
<text x="341.80" y="410.80" font-size="6" text-anchor="middle" font-weight="normal" fill="#222" stroke="#222" stroke-width="0.12">10</text>
<text x="294.95" y="422.50" font-size="7.5" text-anchor="middle" font-weight="normal" fill="#222" stroke="#222" stroke-width="0.16" textLength="29.00" lengthAdjust="spacingAndGlyphs">Time (min)</text>
<text x="219.80" y="358.30" font-size="7.9" text-anchor="middle" font-weight="normal" fill="#1a1a1a" stroke="#1a1a1a" stroke-width="0.25" textLength="44.60" lengthAdjust="spacingAndGlyphs" transform="rotate(-90 219.80 358.30)">ATP release (nM)</text>
<text x="257.00" y="305.40" font-size="8.3" text-anchor="start" font-weight="normal" fill="#222" stroke="#222" stroke-width="0.15" textLength="75.00" lengthAdjust="spacingAndGlyphs">0.05 U/mL Thrombin</text>
<path d="M237.80 398.22 C241.27 395.20 251.67 385.84 258.60 380.12 C265.53 374.39 272.47 368.15 279.40 363.88 C286.33 359.62 293.27 356.98 300.20 354.54 C307.13 352.09 314.07 350.31 321.00 349.23 C327.93 348.14 338.33 348.24 341.80 348.05" stroke="#c8c8ca" stroke-width="1.3" fill="none"/>
<circle cx="237.80" cy="398.22" r="1.3" fill="#c8c8ca"/>
<line x1="258.60" y1="387.99" x2="258.60" y2="372.25" stroke="#c8c8ca" stroke-width="0.8"/>
<line x1="257.10" y1="372.25" x2="260.10" y2="372.25" stroke="#c8c8ca" stroke-width="0.8"/>
<line x1="257.10" y1="387.99" x2="260.10" y2="387.99" stroke="#c8c8ca" stroke-width="0.8"/>
<circle cx="258.60" cy="380.12" r="1.3" fill="#c8c8ca"/>
<line x1="279.40" y1="374.70" x2="279.40" y2="353.06" stroke="#c8c8ca" stroke-width="0.8"/>
<line x1="277.90" y1="353.06" x2="280.90" y2="353.06" stroke="#c8c8ca" stroke-width="0.8"/>
<line x1="277.90" y1="374.70" x2="280.90" y2="374.70" stroke="#c8c8ca" stroke-width="0.8"/>
<circle cx="279.40" cy="363.88" r="1.3" fill="#c8c8ca"/>
<line x1="300.20" y1="368.80" x2="300.20" y2="340.27" stroke="#c8c8ca" stroke-width="0.8"/>
<line x1="298.70" y1="340.27" x2="301.70" y2="340.27" stroke="#c8c8ca" stroke-width="0.8"/>
<line x1="298.70" y1="368.80" x2="301.70" y2="368.80" stroke="#c8c8ca" stroke-width="0.8"/>
<circle cx="300.20" cy="354.54" r="1.3" fill="#c8c8ca"/>
<line x1="321.00" y1="367.42" x2="321.00" y2="331.03" stroke="#c8c8ca" stroke-width="0.8"/>
<line x1="319.50" y1="331.03" x2="322.50" y2="331.03" stroke="#c8c8ca" stroke-width="0.8"/>
<line x1="319.50" y1="367.42" x2="322.50" y2="367.42" stroke="#c8c8ca" stroke-width="0.8"/>
<circle cx="321.00" cy="349.23" r="1.3" fill="#c8c8ca"/>
<line x1="341.80" y1="365.75" x2="341.80" y2="330.34" stroke="#c8c8ca" stroke-width="0.8"/>
<line x1="340.30" y1="330.34" x2="343.30" y2="330.34" stroke="#c8c8ca" stroke-width="0.8"/>
<line x1="340.30" y1="365.75" x2="343.30" y2="365.75" stroke="#c8c8ca" stroke-width="0.8"/>
<circle cx="341.80" cy="348.05" r="1.3" fill="#c8c8ca"/>
<path d="M237.80 398.22 C241.27 396.46 251.67 390.90 258.60 387.69 C265.53 384.48 272.47 381.85 279.40 378.93 C286.33 376.02 293.27 372.49 300.20 370.18 C307.13 367.87 314.07 366.31 321.00 365.06 C327.93 363.82 338.33 363.10 341.80 362.70" stroke="#f39200" stroke-width="1.3" fill="none"/>
<circle cx="237.80" cy="398.22" r="1.3" fill="#f39200"/>
<line x1="258.60" y1="390.15" x2="258.60" y2="385.23" stroke="#f39200" stroke-width="0.8"/>
<line x1="257.10" y1="385.23" x2="260.10" y2="385.23" stroke="#f39200" stroke-width="0.8"/>
<line x1="257.10" y1="390.15" x2="260.10" y2="390.15" stroke="#f39200" stroke-width="0.8"/>
<circle cx="258.60" cy="387.69" r="1.3" fill="#f39200"/>
<line x1="279.40" y1="383.36" x2="279.40" y2="374.51" stroke="#f39200" stroke-width="0.8"/>
<line x1="277.90" y1="374.51" x2="280.90" y2="374.51" stroke="#f39200" stroke-width="0.8"/>
<line x1="277.90" y1="383.36" x2="280.90" y2="383.36" stroke="#f39200" stroke-width="0.8"/>
<circle cx="279.40" cy="378.93" r="1.3" fill="#f39200"/>
<line x1="300.20" y1="375.59" x2="300.20" y2="364.77" stroke="#f39200" stroke-width="0.8"/>
<line x1="298.70" y1="364.77" x2="301.70" y2="364.77" stroke="#f39200" stroke-width="0.8"/>
<line x1="298.70" y1="375.59" x2="301.70" y2="375.59" stroke="#f39200" stroke-width="0.8"/>
<circle cx="300.20" cy="370.18" r="1.3" fill="#f39200"/>
<line x1="321.00" y1="371.95" x2="321.00" y2="358.18" stroke="#f39200" stroke-width="0.8"/>
<line x1="319.50" y1="358.18" x2="322.50" y2="358.18" stroke="#f39200" stroke-width="0.8"/>
<line x1="319.50" y1="371.95" x2="322.50" y2="371.95" stroke="#f39200" stroke-width="0.8"/>
<circle cx="321.00" cy="365.06" r="1.3" fill="#f39200"/>
<line x1="341.80" y1="370.08" x2="341.80" y2="355.32" stroke="#f39200" stroke-width="0.8"/>
<line x1="340.30" y1="355.32" x2="343.30" y2="355.32" stroke="#f39200" stroke-width="0.8"/>
<line x1="340.30" y1="370.08" x2="343.30" y2="370.08" stroke="#f39200" stroke-width="0.8"/>
<circle cx="341.80" cy="362.70" r="1.3" fill="#f39200"/>
<path d="M237.80 398.22 C241.27 397.71 251.67 396.25 258.60 395.17 C265.53 394.08 272.47 392.95 279.40 391.72 C286.33 390.49 293.27 389.05 300.20 387.79 C307.13 386.53 314.07 384.95 321.00 384.15 C327.93 383.35 338.33 383.16 341.80 382.97" stroke="#c8102e" stroke-width="1.3" fill="none"/>
<circle cx="237.80" cy="398.22" r="1.3" fill="#c8102e"/>
<line x1="258.60" y1="395.66" x2="258.60" y2="394.67" stroke="#c8102e" stroke-width="0.8"/>
<line x1="257.10" y1="394.67" x2="260.10" y2="394.67" stroke="#c8102e" stroke-width="0.8"/>
<line x1="257.10" y1="395.66" x2="260.10" y2="395.66" stroke="#c8102e" stroke-width="0.8"/>
<circle cx="258.60" cy="395.17" r="1.3" fill="#c8102e"/>
<line x1="279.40" y1="392.51" x2="279.40" y2="390.94" stroke="#c8102e" stroke-width="0.8"/>
<line x1="277.90" y1="390.94" x2="280.90" y2="390.94" stroke="#c8102e" stroke-width="0.8"/>
<line x1="277.90" y1="392.51" x2="280.90" y2="392.51" stroke="#c8102e" stroke-width="0.8"/>
<circle cx="279.40" cy="391.72" r="1.3" fill="#c8102e"/>
<line x1="300.20" y1="388.77" x2="300.20" y2="386.80" stroke="#c8102e" stroke-width="0.8"/>
<line x1="298.70" y1="386.80" x2="301.70" y2="386.80" stroke="#c8102e" stroke-width="0.8"/>
<line x1="298.70" y1="388.77" x2="301.70" y2="388.77" stroke="#c8102e" stroke-width="0.8"/>
<circle cx="300.20" cy="387.79" r="1.3" fill="#c8102e"/>
<line x1="321.00" y1="385.62" x2="321.00" y2="382.67" stroke="#c8102e" stroke-width="0.8"/>
<line x1="319.50" y1="382.67" x2="322.50" y2="382.67" stroke="#c8102e" stroke-width="0.8"/>
<line x1="319.50" y1="385.62" x2="322.50" y2="385.62" stroke="#c8102e" stroke-width="0.8"/>
<circle cx="321.00" cy="384.15" r="1.3" fill="#c8102e"/>
<line x1="341.80" y1="384.74" x2="341.80" y2="381.20" stroke="#c8102e" stroke-width="0.8"/>
<line x1="340.30" y1="381.20" x2="343.30" y2="381.20" stroke="#c8102e" stroke-width="0.8"/>
<line x1="340.30" y1="384.74" x2="343.30" y2="384.74" stroke="#c8102e" stroke-width="0.8"/>
<circle cx="341.80" cy="382.97" r="1.3" fill="#c8102e"/>
<line x1="248.40" y1="325.90" x2="255.90" y2="325.90" stroke="#c8c8ca" stroke-width="1.2"/>
<circle cx="252.15" cy="325.90" r="1.9" fill="#c8c8ca"/>
<text x="258.90" y="327.80" font-size="6.2" text-anchor="start" font-weight="normal" fill="#222" stroke="#222" stroke-width="0.06" textLength="10.50" lengthAdjust="spacingAndGlyphs">+/+</text>
<line x1="248.40" y1="337.50" x2="255.90" y2="337.50" stroke="#f39200" stroke-width="1.2"/>
<circle cx="252.15" cy="337.50" r="1.9" fill="#f39200"/>
<text x="258.90" y="339.40" font-size="6.2" text-anchor="start" font-weight="normal" fill="#222" stroke="#222" stroke-width="0.06" textLength="10.50" lengthAdjust="spacingAndGlyphs">+/&#8722;</text>
<line x1="248.40" y1="349.20" x2="255.90" y2="349.20" stroke="#c8102e" stroke-width="1.2"/>
<circle cx="252.15" cy="349.20" r="1.9" fill="#c8102e"/>
<text x="258.90" y="351.10" font-size="6.2" text-anchor="start" font-weight="normal" fill="#222" stroke="#222" stroke-width="0.06" textLength="10.50" lengthAdjust="spacingAndGlyphs">&#8722;/&#8722;</text>
<circle cx="279.40" cy="344.70" r="0.85" fill="#7a1a30"/>
<circle cx="300.20" cy="327.30" r="0.85" fill="#7a1a30"/>
<circle cx="300.20" cy="332.40" r="0.85" fill="#7a1a30"/>
<circle cx="321.00" cy="321.60" r="0.85" fill="#7a1a30"/>
<circle cx="321.00" cy="327.10" r="0.85" fill="#7a1a30"/>
<circle cx="341.80" cy="324.50" r="0.85" fill="#7a1a30"/>
<line x1="394.00" y1="399.70" x2="394.00" y2="318.90" stroke="#222" stroke-width="1.1"/>
<line x1="393.50" y1="399.20" x2="507.70" y2="399.20" stroke="#222" stroke-width="1.1"/>
<line x1="391.00" y1="399.20" x2="394.00" y2="399.20" stroke="#222" stroke-width="0.9"/>
<text x="388.00" y="401.80" font-size="6.3" text-anchor="end" font-weight="normal" fill="#3a3a3a" stroke="#3a3a3a" stroke-width="0.04">0</text>
<line x1="391.00" y1="383.84" x2="394.00" y2="383.84" stroke="#222" stroke-width="0.9"/>
<text x="388.00" y="386.44" font-size="6.3" text-anchor="end" font-weight="normal" fill="#3a3a3a" stroke="#3a3a3a" stroke-width="0.04">5</text>
<line x1="391.00" y1="368.48" x2="394.00" y2="368.48" stroke="#222" stroke-width="0.9"/>
<text x="388.00" y="371.08" font-size="6.3" text-anchor="end" font-weight="normal" fill="#3a3a3a" stroke="#3a3a3a" stroke-width="0.04">10</text>
<line x1="391.00" y1="353.12" x2="394.00" y2="353.12" stroke="#222" stroke-width="0.9"/>
<text x="388.00" y="355.72" font-size="6.3" text-anchor="end" font-weight="normal" fill="#3a3a3a" stroke="#3a3a3a" stroke-width="0.04">15</text>
<line x1="391.00" y1="337.76" x2="394.00" y2="337.76" stroke="#222" stroke-width="0.9"/>
<text x="388.00" y="340.36" font-size="6.3" text-anchor="end" font-weight="normal" fill="#3a3a3a" stroke="#3a3a3a" stroke-width="0.04">20</text>
<line x1="391.00" y1="322.40" x2="394.00" y2="322.40" stroke="#222" stroke-width="0.9"/>
<text x="388.00" y="325.00" font-size="6.3" text-anchor="end" font-weight="normal" fill="#3a3a3a" stroke="#3a3a3a" stroke-width="0.04">25</text>
<line x1="394.00" y1="399.20" x2="394.00" y2="401.80" stroke="#222" stroke-width="0.9"/>
<text x="394.00" y="410.80" font-size="6" text-anchor="middle" font-weight="normal" fill="#222" stroke="#222" stroke-width="0.12">0</text>
<line x1="414.68" y1="399.20" x2="414.68" y2="401.80" stroke="#222" stroke-width="0.9"/>
<text x="414.68" y="410.80" font-size="6" text-anchor="middle" font-weight="normal" fill="#222" stroke="#222" stroke-width="0.12">2</text>
<line x1="435.36" y1="399.20" x2="435.36" y2="401.80" stroke="#222" stroke-width="0.9"/>
<text x="435.36" y="410.80" font-size="6" text-anchor="middle" font-weight="normal" fill="#222" stroke="#222" stroke-width="0.12">4</text>
<line x1="456.04" y1="399.20" x2="456.04" y2="401.80" stroke="#222" stroke-width="0.9"/>
<text x="456.04" y="410.80" font-size="6" text-anchor="middle" font-weight="normal" fill="#222" stroke="#222" stroke-width="0.12">6</text>
<line x1="476.72" y1="399.20" x2="476.72" y2="401.80" stroke="#222" stroke-width="0.9"/>
<text x="476.72" y="410.80" font-size="6" text-anchor="middle" font-weight="normal" fill="#222" stroke="#222" stroke-width="0.12">8</text>
<line x1="497.40" y1="399.20" x2="497.40" y2="401.80" stroke="#222" stroke-width="0.9"/>
<text x="497.40" y="410.80" font-size="6" text-anchor="middle" font-weight="normal" fill="#222" stroke="#222" stroke-width="0.12">10</text>
<text x="450.85" y="422.50" font-size="7.5" text-anchor="middle" font-weight="normal" fill="#222" stroke="#222" stroke-width="0.16" textLength="29.00" lengthAdjust="spacingAndGlyphs">Time (min)</text>
<text x="374.80" y="359.10" font-size="7.9" text-anchor="middle" font-weight="normal" fill="#1a1a1a" stroke="#1a1a1a" stroke-width="0.25" textLength="44.60" lengthAdjust="spacingAndGlyphs" transform="rotate(-90 374.80 359.10)">ATP release (nM)</text>
<text x="412.10" y="305.40" font-size="8.3" text-anchor="start" font-weight="normal" fill="#222" stroke="#222" stroke-width="0.15" textLength="78.70" lengthAdjust="spacingAndGlyphs">100 ng/mL Convulxin</text>
<polyline points="394.00,394.90 414.68,390.60 435.36,381.69 456.04,376.16 476.72,363.87 497.40,331.00" stroke="#c8c8ca" stroke-width="1.3" fill="none"/>
<circle cx="394.00" cy="394.90" r="1.3" fill="#c8c8ca"/>
<line x1="414.68" y1="392.13" x2="414.68" y2="389.06" stroke="#c8c8ca" stroke-width="0.8"/>
<line x1="413.18" y1="389.06" x2="416.18" y2="389.06" stroke="#c8c8ca" stroke-width="0.8"/>
<line x1="413.18" y1="392.13" x2="416.18" y2="392.13" stroke="#c8c8ca" stroke-width="0.8"/>
<circle cx="414.68" cy="390.60" r="1.3" fill="#c8c8ca"/>
<line x1="435.36" y1="384.15" x2="435.36" y2="379.23" stroke="#c8c8ca" stroke-width="0.8"/>
<line x1="433.86" y1="379.23" x2="436.86" y2="379.23" stroke="#c8c8ca" stroke-width="0.8"/>
<line x1="433.86" y1="384.15" x2="436.86" y2="384.15" stroke="#c8c8ca" stroke-width="0.8"/>
<circle cx="435.36" cy="381.69" r="1.3" fill="#c8c8ca"/>
<line x1="456.04" y1="379.23" x2="456.04" y2="373.09" stroke="#c8c8ca" stroke-width="0.8"/>
<line x1="454.54" y1="373.09" x2="457.54" y2="373.09" stroke="#c8c8ca" stroke-width="0.8"/>
<line x1="454.54" y1="379.23" x2="457.54" y2="379.23" stroke="#c8c8ca" stroke-width="0.8"/>
<circle cx="456.04" cy="376.16" r="1.3" fill="#c8c8ca"/>
<line x1="476.72" y1="370.02" x2="476.72" y2="357.73" stroke="#c8c8ca" stroke-width="0.8"/>
<line x1="475.22" y1="357.73" x2="478.22" y2="357.73" stroke="#c8c8ca" stroke-width="0.8"/>
<line x1="475.22" y1="370.02" x2="478.22" y2="370.02" stroke="#c8c8ca" stroke-width="0.8"/>
<circle cx="476.72" cy="363.87" r="1.3" fill="#c8c8ca"/>
<line x1="497.40" y1="334.69" x2="497.40" y2="327.32" stroke="#c8c8ca" stroke-width="0.8"/>
<line x1="495.90" y1="327.32" x2="498.90" y2="327.32" stroke="#c8c8ca" stroke-width="0.8"/>
<line x1="495.90" y1="334.69" x2="498.90" y2="334.69" stroke="#c8c8ca" stroke-width="0.8"/>
<circle cx="497.40" cy="331.00" r="1.3" fill="#c8c8ca"/>
<polyline points="394.00,393.98 414.68,382.00 435.36,375.85 456.04,371.55 476.72,363.87 497.40,346.05" stroke="#f39200" stroke-width="1.3" fill="none"/>
<circle cx="394.00" cy="393.98" r="1.3" fill="#f39200"/>
<line x1="414.68" y1="386.91" x2="414.68" y2="377.08" stroke="#f39200" stroke-width="0.8"/>
<line x1="413.18" y1="377.08" x2="416.18" y2="377.08" stroke="#f39200" stroke-width="0.8"/>
<line x1="413.18" y1="386.91" x2="416.18" y2="386.91" stroke="#f39200" stroke-width="0.8"/>
<circle cx="414.68" cy="382.00" r="1.3" fill="#f39200"/>
<line x1="435.36" y1="381.38" x2="435.36" y2="370.32" stroke="#f39200" stroke-width="0.8"/>
<line x1="433.86" y1="370.32" x2="436.86" y2="370.32" stroke="#f39200" stroke-width="0.8"/>
<line x1="433.86" y1="381.38" x2="436.86" y2="381.38" stroke="#f39200" stroke-width="0.8"/>
<circle cx="435.36" cy="375.85" r="1.3" fill="#f39200"/>
<line x1="456.04" y1="378.31" x2="456.04" y2="364.79" stroke="#f39200" stroke-width="0.8"/>
<line x1="454.54" y1="364.79" x2="457.54" y2="364.79" stroke="#f39200" stroke-width="0.8"/>
<line x1="454.54" y1="378.31" x2="457.54" y2="378.31" stroke="#f39200" stroke-width="0.8"/>
<circle cx="456.04" cy="371.55" r="1.3" fill="#f39200"/>
<line x1="476.72" y1="370.02" x2="476.72" y2="357.73" stroke="#f39200" stroke-width="0.8"/>
<line x1="475.22" y1="357.73" x2="478.22" y2="357.73" stroke="#f39200" stroke-width="0.8"/>
<line x1="475.22" y1="370.02" x2="478.22" y2="370.02" stroke="#f39200" stroke-width="0.8"/>
<circle cx="476.72" cy="363.87" r="1.3" fill="#f39200"/>
<line x1="497.40" y1="353.73" x2="497.40" y2="338.37" stroke="#f39200" stroke-width="0.8"/>
<line x1="495.90" y1="338.37" x2="498.90" y2="338.37" stroke="#f39200" stroke-width="0.8"/>
<line x1="495.90" y1="353.73" x2="498.90" y2="353.73" stroke="#f39200" stroke-width="0.8"/>
<circle cx="497.40" cy="346.05" r="1.3" fill="#f39200"/>
<polyline points="394.00,395.21 414.68,391.21 435.36,388.76 456.04,386.60 476.72,382.92 497.40,376.16" stroke="#c8102e" stroke-width="1.3" fill="none"/>
<circle cx="394.00" cy="395.21" r="1.3" fill="#c8102e"/>
<line x1="414.68" y1="392.44" x2="414.68" y2="389.98" stroke="#c8102e" stroke-width="0.8"/>
<line x1="413.18" y1="389.98" x2="416.18" y2="389.98" stroke="#c8102e" stroke-width="0.8"/>
<line x1="413.18" y1="392.44" x2="416.18" y2="392.44" stroke="#c8102e" stroke-width="0.8"/>
<circle cx="414.68" cy="391.21" r="1.3" fill="#c8102e"/>
<line x1="435.36" y1="390.29" x2="435.36" y2="387.22" stroke="#c8102e" stroke-width="0.8"/>
<line x1="433.86" y1="387.22" x2="436.86" y2="387.22" stroke="#c8102e" stroke-width="0.8"/>
<line x1="433.86" y1="390.29" x2="436.86" y2="390.29" stroke="#c8102e" stroke-width="0.8"/>
<circle cx="435.36" cy="388.76" r="1.3" fill="#c8102e"/>
<line x1="456.04" y1="388.14" x2="456.04" y2="385.07" stroke="#c8102e" stroke-width="0.8"/>
<line x1="454.54" y1="385.07" x2="457.54" y2="385.07" stroke="#c8102e" stroke-width="0.8"/>
<line x1="454.54" y1="388.14" x2="457.54" y2="388.14" stroke="#c8102e" stroke-width="0.8"/>
<circle cx="456.04" cy="386.60" r="1.3" fill="#c8102e"/>
<line x1="476.72" y1="384.76" x2="476.72" y2="381.08" stroke="#c8102e" stroke-width="0.8"/>
<line x1="475.22" y1="381.08" x2="478.22" y2="381.08" stroke="#c8102e" stroke-width="0.8"/>
<line x1="475.22" y1="384.76" x2="478.22" y2="384.76" stroke="#c8102e" stroke-width="0.8"/>
<circle cx="476.72" cy="382.92" r="1.3" fill="#c8102e"/>
<line x1="497.40" y1="378.92" x2="497.40" y2="373.40" stroke="#c8102e" stroke-width="0.8"/>
<line x1="495.90" y1="373.40" x2="498.90" y2="373.40" stroke="#c8102e" stroke-width="0.8"/>
<line x1="495.90" y1="378.92" x2="498.90" y2="378.92" stroke="#c8102e" stroke-width="0.8"/>
<circle cx="497.40" cy="376.16" r="1.3" fill="#c8102e"/>
<line x1="403.00" y1="327.40" x2="410.50" y2="327.40" stroke="#c8c8ca" stroke-width="1.2"/>
<circle cx="406.75" cy="327.40" r="1.9" fill="#c8c8ca"/>
<text x="413.50" y="329.30" font-size="6.2" text-anchor="start" font-weight="normal" fill="#222" stroke="#222" stroke-width="0.06" textLength="10.50" lengthAdjust="spacingAndGlyphs">+/+</text>
<line x1="403.00" y1="337.80" x2="410.50" y2="337.80" stroke="#f39200" stroke-width="1.2"/>
<circle cx="406.75" cy="337.80" r="1.9" fill="#f39200"/>
<text x="413.50" y="339.70" font-size="6.2" text-anchor="start" font-weight="normal" fill="#222" stroke="#222" stroke-width="0.06" textLength="10.50" lengthAdjust="spacingAndGlyphs">+/&#8722;</text>
<line x1="403.00" y1="348.60" x2="410.50" y2="348.60" stroke="#c8102e" stroke-width="1.2"/>
<circle cx="406.75" cy="348.60" r="1.9" fill="#c8102e"/>
<text x="413.50" y="350.50" font-size="6.2" text-anchor="start" font-weight="normal" fill="#222" stroke="#222" stroke-width="0.06" textLength="10.50" lengthAdjust="spacingAndGlyphs">&#8722;/&#8722;</text>
<circle cx="456.04" cy="360.30" r="0.85" fill="#7a1a30"/>
<circle cx="476.72" cy="348.60" r="0.85" fill="#7a1a30"/>
<circle cx="497.40" cy="317.00" r="0.85" fill="#7a1a30"/>
<circle cx="497.40" cy="321.90" r="0.85" fill="#7a1a30"/>
</svg>
<div id="frame"></div>
</div>
</body></html>
